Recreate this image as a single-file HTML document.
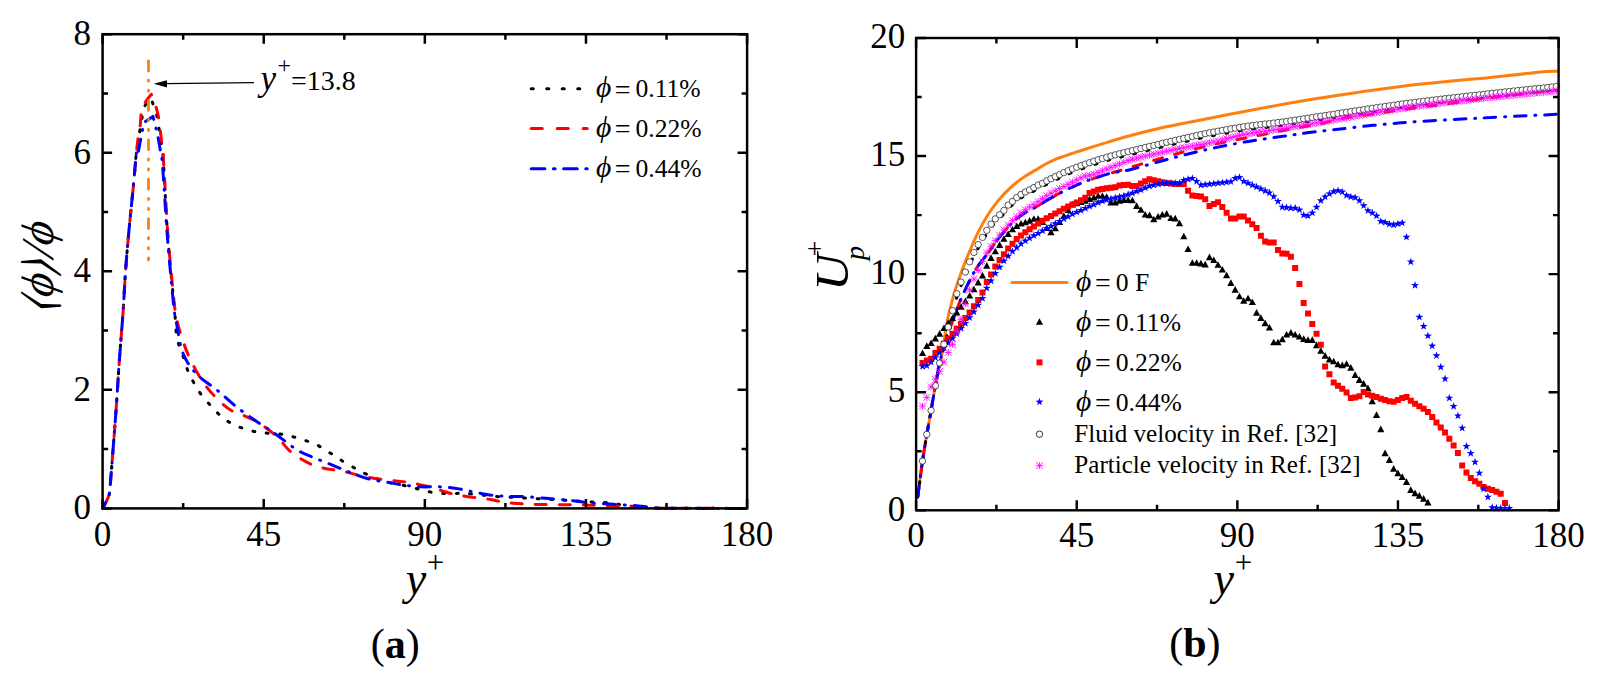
<!DOCTYPE html>
<html lang="en"><head><meta charset="utf-8"><title>Figure</title>
<style>
html,body{margin:0;padding:0;background:#fff;}
body{width:1598px;height:680px;overflow:hidden;}
svg{display:block;}
</style></head><body>
<svg width="1598" height="680" viewBox="0 0 1598 680">
<rect width="1598" height="680" fill="#fff"/>
<g id="plot-a">
<g fill="none" stroke-width="3" stroke-linejoin="round" stroke-linecap="round">
<path d="M102.60 508.40C102.75 508.13 102.85 508.03 103.50 506.80C104.15 505.57 105.52 503.22 106.50 501.00C107.48 498.78 108.68 497.33 109.40 493.50C110.12 489.67 110.30 483.88 110.80 478.00C111.30 472.12 111.50 469.83 112.40 458.20C113.30 446.57 115.08 423.88 116.20 408.20C117.32 392.52 118.18 377.13 119.10 364.10C120.02 351.07 121.00 339.23 121.70 330.00C122.40 320.77 122.63 318.87 123.30 308.70C123.97 298.53 124.73 282.28 125.70 269.00C126.67 255.72 127.88 242.17 129.10 229.00C130.32 215.83 131.77 202.83 133.00 190.00C134.23 177.17 135.48 161.05 136.50 152.00C137.52 142.95 138.27 140.87 139.10 135.70C139.93 130.53 140.67 125.68 141.50 121.00C142.33 116.32 142.55 111.40 144.10 107.60C145.65 103.80 149.68 99.77 150.80 98.20C151.70 100.67 154.83 107.95 156.20 113.00C157.57 118.05 158.12 123.17 159.00 128.50C159.88 133.83 160.80 140.08 161.50 145.00C162.20 149.92 162.25 144.00 163.20 158.00C164.15 172.00 165.97 210.50 167.20 229.00C168.43 247.50 169.38 255.72 170.60 269.00C171.82 282.28 173.43 297.27 174.50 308.70C175.57 320.13 175.45 329.35 177.00 337.60C178.55 345.85 181.93 352.55 183.80 358.20C185.67 363.85 186.48 367.33 188.20 371.50C189.92 375.67 191.88 379.28 194.10 383.20C196.32 387.12 198.32 390.83 201.50 395.00C204.68 399.17 209.53 404.28 213.20 408.20C216.87 412.12 220.07 415.80 223.50 418.50C226.93 421.20 230.37 422.68 233.80 424.40C237.23 426.12 240.42 427.57 244.10 428.80C247.78 430.03 251.98 431.07 255.90 431.80C259.82 432.53 263.15 432.77 267.60 433.20C272.05 433.63 278.18 433.75 282.60 434.40C287.02 435.05 290.12 436.02 294.10 437.10C298.08 438.18 302.67 439.58 306.50 440.90C310.33 442.22 313.58 443.23 317.10 445.00C320.62 446.77 324.22 449.43 327.60 451.50C330.98 453.57 334.75 455.68 337.40 457.40C340.05 459.12 341.00 460.25 343.50 461.80C346.00 463.35 349.45 465.03 352.40 466.70C355.35 468.37 357.68 470.07 361.20 471.80C364.72 473.53 369.68 475.48 373.50 477.10C377.32 478.72 380.27 480.38 384.10 481.50C387.93 482.62 392.08 482.88 396.50 483.80C400.92 484.72 406.33 485.97 410.60 487.00C414.87 488.03 417.83 489.00 422.10 490.00C426.37 491.00 431.20 492.42 436.20 493.00C441.20 493.58 446.95 493.42 452.10 493.50C457.25 493.58 459.75 493.00 467.10 493.50C474.45 494.00 487.97 495.82 496.20 496.50C504.43 497.18 508.03 497.13 516.50 497.60C524.97 498.07 539.75 498.90 547.00 499.30C554.25 499.70 553.05 499.58 560.00 500.00C566.95 500.42 581.37 501.38 588.70 501.80C596.03 502.22 599.53 502.17 604.00 502.50C608.47 502.83 611.42 503.23 615.50 503.80C619.58 504.37 623.75 505.30 628.50 505.90C633.25 506.50 637.92 507.02 644.00 507.40C650.08 507.78 647.82 508.03 665.00 508.20C682.18 508.37 733.42 508.37 747.10 508.40" stroke="#000" stroke-dasharray="1.9 11.6" stroke-dashoffset="-1.4"/>
<path d="M102.60 508.40C102.75 508.13 102.85 508.03 103.50 506.80C104.15 505.57 105.52 503.22 106.50 501.00C107.48 498.78 108.68 497.33 109.40 493.50C110.12 489.67 110.30 483.88 110.80 478.00C111.30 472.12 111.50 469.83 112.40 458.20C113.30 446.57 115.08 423.88 116.20 408.20C117.32 392.52 118.18 377.13 119.10 364.10C120.02 351.07 121.00 339.23 121.70 330.00C122.40 320.77 122.63 318.87 123.30 308.70C123.97 298.53 124.73 282.28 125.70 269.00C126.67 255.72 127.88 242.17 129.10 229.00C130.32 215.83 131.77 202.83 133.00 190.00C134.23 177.17 135.67 160.60 136.50 152.00C137.33 143.40 137.38 142.77 138.00 138.40C138.62 134.03 139.65 129.93 140.20 125.80C140.75 121.67 140.47 117.47 141.30 113.60C142.13 109.73 143.53 105.82 145.20 102.60C146.87 99.38 150.28 95.68 151.30 94.30C152.12 96.52 154.92 103.37 156.20 107.60C157.48 111.83 158.27 115.47 159.00 119.70C159.73 123.93 160.10 128.78 160.60 133.00C161.10 137.22 161.57 141.17 162.00 145.00C162.43 148.83 162.28 142.00 163.20 156.00C164.12 170.00 166.22 210.17 167.50 229.00C168.78 247.83 169.67 255.72 170.90 269.00C172.13 282.28 173.75 299.53 174.90 308.70C176.05 317.87 176.32 318.20 177.80 324.00C179.28 329.80 181.57 337.30 183.80 343.50C186.03 349.70 188.02 354.82 191.20 361.20C194.38 367.58 198.50 375.43 202.90 381.80C207.30 388.17 212.68 394.50 217.60 399.40C222.52 404.30 227.98 408.50 232.40 411.20C236.82 413.90 239.70 413.65 244.10 415.60C248.50 417.55 253.40 419.47 258.80 422.90C264.20 426.33 271.60 431.78 276.50 436.20C281.40 440.62 284.08 445.58 288.20 449.40C292.32 453.22 296.98 456.45 301.20 459.10C305.42 461.75 309.68 463.77 313.50 465.30C317.32 466.83 320.87 467.57 324.10 468.30C327.33 469.03 329.37 469.12 332.90 469.70C336.43 470.28 340.88 470.83 345.30 471.80C349.72 472.77 354.70 474.43 359.40 475.50C364.10 476.57 368.50 477.40 373.50 478.20C378.50 479.00 384.40 479.72 389.40 480.30C394.40 480.88 399.08 481.12 403.50 481.70C407.92 482.28 411.48 482.92 415.90 483.80C420.32 484.68 425.58 485.82 430.00 487.00C434.42 488.18 437.98 489.58 442.40 490.90C446.82 492.22 451.22 493.82 456.50 494.90C461.78 495.98 468.22 496.60 474.10 497.40C479.98 498.20 486.40 498.83 491.80 499.70C497.20 500.57 499.72 501.83 506.50 502.60C513.28 503.37 522.73 503.95 532.50 504.30C542.27 504.65 555.60 504.55 565.10 504.70C574.60 504.85 581.37 505.00 589.50 505.20C597.63 505.40 605.77 505.57 613.90 505.90C622.03 506.23 630.62 506.82 638.30 507.20C645.98 507.58 641.87 508.00 660.00 508.20C678.13 508.40 732.58 508.37 747.10 508.40" stroke="#f00" stroke-dasharray="11 13" stroke-dashoffset="-1.5"/>
<path d="M102.60 508.40C102.75 508.13 102.85 508.03 103.50 506.80C104.15 505.57 105.52 503.22 106.50 501.00C107.48 498.78 108.68 497.33 109.40 493.50C110.12 489.67 110.30 483.88 110.80 478.00C111.30 472.12 111.50 469.83 112.40 458.20C113.30 446.57 115.08 423.88 116.20 408.20C117.32 392.52 118.18 377.13 119.10 364.10C120.02 351.07 121.00 339.23 121.70 330.00C122.40 320.77 122.63 318.87 123.30 308.70C123.97 298.53 124.73 282.28 125.70 269.00C126.67 255.72 127.88 242.17 129.10 229.00C130.32 215.83 131.77 202.83 133.00 190.00C134.23 177.17 135.67 158.20 136.50 152.00C137.33 145.80 137.28 155.07 138.00 152.80C138.72 150.53 140.07 142.17 140.80 138.40C141.53 134.63 141.85 132.87 142.40 130.20C142.95 127.53 143.82 123.70 144.10 122.40C145.57 121.40 151.43 117.40 152.90 116.40C153.27 117.78 154.37 121.85 155.10 124.70C155.83 127.55 156.48 129.55 157.30 133.50C158.12 137.45 159.13 143.15 160.00 148.40C160.87 153.65 161.37 151.57 162.50 165.00C163.63 178.43 165.52 211.67 166.80 229.00C168.08 246.33 169.00 255.72 170.20 269.00C171.40 282.28 172.95 299.70 174.00 308.70C175.05 317.70 175.35 316.70 176.50 323.00C177.65 329.30 179.18 340.13 180.90 346.50C182.62 352.87 183.87 356.30 186.80 361.20C189.73 366.10 193.37 371.00 198.50 375.90C203.63 380.80 210.98 385.22 217.60 390.60C224.22 395.98 231.33 402.82 238.20 408.20C245.07 413.58 252.42 418.48 258.80 422.90C265.18 427.32 270.03 430.13 276.50 434.70C282.97 439.27 291.13 446.38 297.60 450.30C304.07 454.22 309.42 455.70 315.30 458.20C321.18 460.70 327.02 462.90 332.90 465.30C338.78 467.70 344.72 470.35 350.60 472.60C356.48 474.85 362.32 477.23 368.20 478.80C374.08 480.37 380.02 480.97 385.90 482.00C391.78 483.03 397.62 484.20 403.50 485.00C409.38 485.80 415.32 486.50 421.20 486.80C427.08 487.10 432.92 486.52 438.80 486.80C444.68 487.08 450.62 487.63 456.50 488.50C462.38 489.37 468.22 490.88 474.10 492.00C479.98 493.12 485.92 494.47 491.80 495.20C497.68 495.93 503.97 496.17 509.40 496.40C514.83 496.63 517.83 496.23 524.40 496.60C530.97 496.97 540.67 497.92 548.80 498.60C556.93 499.28 566.42 500.00 573.20 500.70C579.98 501.40 582.72 502.20 589.50 502.80C596.28 503.40 605.77 503.78 613.90 504.30C622.03 504.82 631.52 505.33 638.30 505.90C645.08 506.47 648.48 507.30 654.60 507.70C660.72 508.10 659.58 508.18 675.00 508.30C690.42 508.42 735.08 508.38 747.10 508.40" stroke="#00f" stroke-dasharray="12 9 1 9" stroke-dashoffset="5.1"/>
<path d="M148.5 61V260" stroke="#ff7f0e" stroke-width="2.8" stroke-dasharray="10 9.1 1.2 8.8 1.2 9.1"/>
</g>
<rect x="102.60" y="34.20" width="644.50" height="474.20" fill="none" stroke="#000" stroke-width="2.50"/>
<path d="M102.60 508.40 v-9.50 M102.60 34.20 v9.50M263.73 508.40 v-9.50 M263.73 34.20 v9.50M424.85 508.40 v-9.50 M424.85 34.20 v9.50M585.98 508.40 v-9.50 M585.98 34.20 v9.50M747.10 508.40 v-9.50 M747.10 34.20 v9.50M183.16 508.40 v-5.50 M183.16 34.20 v5.50M344.29 508.40 v-5.50 M344.29 34.20 v5.50M505.41 508.40 v-5.50 M505.41 34.20 v5.50M666.54 508.40 v-5.50 M666.54 34.20 v5.50M102.60 508.40 h9.50 M747.10 508.40 h-9.50M102.60 389.85 h9.50 M747.10 389.85 h-9.50M102.60 271.30 h9.50 M747.10 271.30 h-9.50M102.60 152.75 h9.50 M747.10 152.75 h-9.50M102.60 34.20 h9.50 M747.10 34.20 h-9.50M102.60 449.12 h5.50 M747.10 449.12 h-5.50M102.60 330.57 h5.50 M747.10 330.57 h-5.50M102.60 212.02 h5.50 M747.10 212.02 h-5.50M102.60 93.47 h5.50 M747.10 93.47 h-5.50" stroke="#000" stroke-width="2.50" fill="none"/>
<path d="M254 82.7L166 83.7" stroke="#000" stroke-width="1.2" fill="none"/>
<path d="M153.8 83.8L167 80.2L167 87.4Z" fill="#000"/>
<g font-family="'Liberation Serif',serif" font-size="35" fill="#000">
<text x="102.60" y="545.6" text-anchor="middle">0</text>
<text x="263.73" y="545.6" text-anchor="middle">45</text>
<text x="424.85" y="545.6" text-anchor="middle">90</text>
<text x="585.98" y="545.6" text-anchor="middle">135</text>
<text x="747.10" y="545.6" text-anchor="middle">180</text>
<text x="91" y="519.20" text-anchor="end">0</text>
<text x="91" y="400.65" text-anchor="end">2</text>
<text x="91" y="282.10" text-anchor="end">4</text>
<text x="91" y="163.55" text-anchor="end">6</text>
<text x="91" y="45.00" text-anchor="end">8</text>
</g>
<text x="405.75" y="594" font-family="'Liberation Serif',serif" font-style="italic" font-size="46">y</text>
<text x="435.6" y="573.2" text-anchor="middle" font-family="'Liberation Serif',serif" font-size="31">+</text>
<g transform="rotate(-90)" fill="#000">
<text transform="translate(-298.6,53.2) skewX(-10.5)" font-family="'Liberation Serif',serif" font-style="italic" font-size="45.5">ϕ</text>
<text transform="translate(-246.7,53.2) skewX(-10.5)" font-family="'Liberation Serif',serif" font-style="italic" font-size="45.5">ϕ</text>
<text transform="translate(-258.6,53.2) skewX(-8.5)" font-family="'Liberation Serif',serif" font-style="italic" font-size="45.5">/</text>
<text transform="translate(-315.6,54.4) skewX(-18.5) scale(0.77,1)" font-family="'DejaVu Math TeX Gyre','DejaVu Serif',serif" font-size="47.3">⟨</text>
<text transform="translate(-276,54.4) skewX(-18.5) scale(0.77,1)" font-family="'DejaVu Math TeX Gyre','DejaVu Serif',serif" font-size="47.3">⟩</text>
</g>
<text x="395.2" y="657.6" text-anchor="middle" font-family="'Liberation Serif',serif" font-size="42">(<tspan font-weight="bold">a</tspan>)</text>
<text font-family="'Liberation Serif',serif" fill="#000"><tspan x="260.5" y="90.1" font-style="italic" font-size="35">y</tspan><tspan x="277.5" y="73.3" font-size="24">+</tspan><tspan x="291" y="90.1" font-size="28">=13.8</tspan></text>
<g fill="none" stroke-width="3" stroke-linecap="round">
<path d="M531.2 88.7H587" stroke="#000" stroke-dasharray="2.1 13.4"/>
<path d="M531.2 128.6H587.2" stroke="#f00" stroke-dasharray="11.1 14.9"/>
<path d="M531.2 168.7H587.2" stroke="#00f" stroke-dasharray="13.7 8.5 1.7 8.5"/>
</g>
<g font-family="'Liberation Serif',serif" font-size="25.6" fill="#000">
<text y="97.3"><tspan x="596" font-style="italic" font-size="29.5">ϕ</tspan><tspan x="614.8" dy="1.2" font-size="28">=</tspan><tspan x="635.5" dy="-1.2">0.11%</tspan></text>
<text y="137.2"><tspan x="596" font-style="italic" font-size="29.5">ϕ</tspan><tspan x="614.8" dy="1.2" font-size="28">=</tspan><tspan x="635.5" dy="-1.2">0.22%</tspan></text>
<text y="177.1"><tspan x="596" font-style="italic" font-size="29.5">ϕ</tspan><tspan x="614.8" dy="1.2" font-size="28">=</tspan><tspan x="635.5" dy="-1.2">0.44%</tspan></text>
</g>
</g>
<g id="plot-b">
<g>
<g fill="none" stroke-width="3" stroke-linejoin="round" stroke-linecap="round">
<path d="M917.75 496.90C918.54 490.96 921.02 471.47 922.50 461.25C923.98 451.03 925.17 444.08 926.60 435.60C928.03 427.12 929.63 418.73 931.10 410.40C932.57 402.07 933.98 393.48 935.40 385.60C936.82 377.72 938.57 368.20 939.65 363.10C940.73 358.00 940.59 362.18 941.90 355.00C943.21 347.82 945.52 330.00 947.50 320.00C949.48 310.00 951.82 301.92 953.75 295.00C955.68 288.08 956.61 285.45 959.10 278.50C961.59 271.55 965.52 261.02 968.70 253.30C971.88 245.58 975.02 238.58 978.20 232.20C981.38 225.82 984.60 220.10 987.80 215.00C991.00 209.90 994.22 205.58 997.40 201.60C1000.58 197.62 1003.72 194.28 1006.90 191.10C1010.08 187.92 1013.32 185.05 1016.50 182.50C1019.68 179.95 1022.82 177.87 1026.00 175.80C1029.18 173.73 1032.40 172.02 1035.60 170.10C1038.80 168.18 1042.02 166.05 1045.20 164.30C1048.38 162.55 1051.52 160.95 1054.70 159.60C1057.88 158.25 1061.12 157.32 1064.30 156.20C1067.48 155.08 1070.62 153.98 1073.80 152.90C1076.98 151.82 1079.03 151.08 1083.40 149.70C1087.77 148.32 1094.73 146.22 1100.00 144.60C1105.27 142.98 1110.00 141.48 1115.00 140.00C1120.00 138.52 1121.67 137.87 1130.00 135.70C1138.33 133.53 1153.22 129.62 1165.00 127.00C1176.78 124.38 1184.87 123.08 1200.70 120.00C1216.53 116.92 1240.12 112.15 1260.00 108.50C1279.88 104.85 1296.52 101.78 1320.00 98.10C1343.48 94.42 1372.57 89.85 1400.90 86.40C1429.23 82.95 1468.48 79.60 1490.00 77.40C1511.52 75.20 1520.58 74.18 1530.00 73.20C1539.42 72.22 1541.97 71.82 1546.50 71.50C1551.03 71.18 1555.42 71.33 1557.20 71.30" stroke="#ff7f0e"/>
<path d="M917.75 496.90C918.54 490.96 921.02 471.47 922.50 461.25C923.98 451.03 925.17 444.08 926.60 435.60C928.03 427.12 929.63 418.73 931.10 410.40C932.57 402.07 933.98 393.48 935.40 385.60C936.82 377.72 938.26 369.28 939.65 363.10C941.04 356.92 942.34 353.85 943.75 348.50C945.16 343.15 946.64 336.73 948.10 331.00C949.56 325.27 951.08 319.62 952.50 314.10C953.92 308.58 955.18 302.62 956.60 297.90C958.02 293.17 959.50 289.57 961.00 285.75C962.50 281.93 964.17 278.39 965.60 275.00C967.03 271.61 968.28 268.43 969.60 265.40C970.92 262.37 972.07 259.68 973.50 256.80C974.93 253.92 976.77 250.65 978.20 248.10C979.63 245.55 980.67 243.88 982.10 241.50C983.53 239.12 985.37 236.03 986.80 233.80C988.23 231.57 989.27 230.02 990.70 228.10C992.13 226.18 993.97 223.90 995.40 222.30C996.83 220.70 997.85 219.93 999.30 218.50C1000.75 217.07 1002.67 215.30 1004.10 213.70C1005.53 212.10 1006.53 210.33 1007.90 208.90C1009.27 207.47 1010.87 206.37 1012.30 205.10C1013.73 203.83 1015.10 202.47 1016.50 201.30C1017.90 200.13 1019.27 199.05 1020.70 198.10C1022.13 197.15 1023.73 196.33 1025.10 195.60C1026.47 194.87 1027.53 194.40 1028.90 193.70C1030.27 193.00 1031.87 192.20 1033.30 191.40C1034.73 190.60 1036.07 189.63 1037.50 188.90C1038.93 188.17 1040.47 187.70 1041.90 187.00C1043.33 186.30 1043.42 186.07 1046.10 184.70C1048.78 183.33 1053.70 180.82 1058.00 178.80C1062.30 176.78 1066.07 174.90 1071.90 172.60C1077.73 170.30 1086.30 167.23 1093.00 165.00C1099.70 162.77 1105.93 160.92 1112.10 159.20C1118.27 157.48 1123.68 156.27 1130.00 154.70C1136.32 153.13 1143.33 151.42 1150.00 149.80C1156.67 148.18 1163.33 146.55 1170.00 145.00C1176.67 143.45 1183.33 141.97 1190.00 140.50C1196.67 139.03 1200.88 137.93 1210.00 136.20C1219.12 134.47 1232.53 131.90 1244.70 130.10C1256.87 128.30 1270.45 127.12 1283.00 125.40C1295.55 123.68 1300.35 122.75 1320.00 119.80C1339.65 116.85 1373.93 111.33 1400.90 107.70C1427.87 104.07 1455.88 100.95 1481.80 98.00C1507.72 95.05 1543.97 91.33 1556.40 90.00" stroke="#000" stroke-dasharray="1.9 11.6"/>
<path d="M917.75 496.90C918.54 490.96 921.02 471.47 922.50 461.25C923.98 451.03 925.17 444.08 926.60 435.60C928.03 427.12 929.63 418.73 931.10 410.40C932.57 402.07 933.98 393.48 935.40 385.60C936.82 377.72 938.38 369.03 939.65 363.10C940.92 357.17 941.77 354.35 943.00 350.00C944.23 345.65 945.62 341.17 947.00 337.00C948.38 332.83 949.08 330.96 951.25 325.00C953.42 319.04 957.08 308.33 960.00 301.25C962.92 294.17 966.03 287.96 968.75 282.50C971.47 277.04 973.12 273.37 976.30 268.50C979.47 263.63 984.28 258.07 987.80 253.30C991.32 248.53 994.22 244.05 997.40 239.90C1000.58 235.75 1003.72 231.92 1006.90 228.40C1010.08 224.88 1013.32 221.52 1016.50 218.80C1019.68 216.08 1023.45 213.68 1026.00 212.10C1028.55 210.52 1027.02 212.00 1031.80 209.30C1036.58 206.60 1047.70 199.73 1054.70 195.90C1061.70 192.07 1067.42 189.17 1073.80 186.30C1080.18 183.43 1086.62 180.93 1093.00 178.70C1099.38 176.47 1104.50 175.20 1112.10 172.90C1119.70 170.60 1127.65 168.13 1138.60 164.90C1149.55 161.67 1164.90 157.00 1177.80 153.50C1190.70 150.00 1203.25 146.77 1216.00 143.90C1228.75 141.03 1241.55 138.85 1254.30 136.30C1267.05 133.75 1281.35 130.68 1292.50 128.60C1303.65 126.52 1313.92 125.30 1321.20 123.80C1328.48 122.30 1330.47 120.85 1336.20 119.60C1341.93 118.35 1348.32 117.38 1355.60 116.30C1362.88 115.22 1372.88 114.12 1379.90 113.10C1386.92 112.08 1390.97 111.22 1397.70 110.20C1404.43 109.18 1413.30 107.92 1420.30 107.00C1427.30 106.08 1429.45 106.07 1439.70 104.70C1449.95 103.33 1466.75 100.75 1481.80 98.80C1496.85 96.85 1517.43 94.45 1530.00 93.00C1542.57 91.55 1552.67 90.58 1557.20 90.10" stroke="#f00" stroke-dasharray="9 12.5"/>
<path d="M917.75 496.90C918.54 490.96 921.02 471.47 922.50 461.25C923.98 451.03 925.17 444.08 926.60 435.60C928.03 427.12 929.63 418.73 931.10 410.40C932.57 402.07 933.98 393.48 935.40 385.60C936.82 377.72 938.38 369.03 939.65 363.10C940.92 357.17 941.77 354.35 943.00 350.00C944.23 345.65 945.62 341.17 947.00 337.00C948.38 332.83 949.08 330.96 951.25 325.00C953.42 319.04 957.08 308.33 960.00 301.25C962.92 294.17 966.03 287.96 968.75 282.50C971.47 277.04 973.12 273.37 976.30 268.50C979.47 263.63 984.28 258.07 987.80 253.30C991.32 248.53 994.22 244.05 997.40 239.90C1000.58 235.75 1003.72 231.92 1006.90 228.40C1010.08 224.88 1013.32 221.52 1016.50 218.80C1019.68 216.08 1023.45 213.68 1026.00 212.10C1028.55 210.52 1027.02 212.00 1031.80 209.30C1036.58 206.60 1047.70 199.73 1054.70 195.90C1061.70 192.07 1067.42 189.17 1073.80 186.30C1080.18 183.43 1086.62 180.93 1093.00 178.70C1099.38 176.47 1105.93 174.40 1112.10 172.90C1118.27 171.40 1120.65 171.98 1130.00 169.70C1139.35 167.42 1155.45 162.55 1168.20 159.20C1180.95 155.85 1193.75 152.47 1206.50 149.60C1219.25 146.73 1231.95 144.22 1244.70 142.00C1257.45 139.78 1270.25 138.12 1283.00 136.30C1295.75 134.48 1301.55 133.35 1321.20 131.10C1340.85 128.85 1374.13 124.98 1400.90 122.80C1427.67 120.62 1455.75 119.42 1481.80 118.00C1507.85 116.58 1544.63 114.92 1557.20 114.30" stroke="#00f" stroke-dasharray="11.6 8.8 1 8.8"/>
</g>
</g>
<path d="M922.52 349.47L926.12 356.07L918.92 356.07ZM926.81 342.37L930.41 348.97L923.21 348.97ZM931.09 339.47L934.69 346.07L927.49 346.07ZM935.37 334.87L938.97 341.47L931.77 341.47ZM939.65 330.12L943.25 336.72L936.05 336.72ZM943.94 324.47L947.54 331.07L940.34 331.07ZM948.22 319.47L951.82 326.07L944.62 326.07ZM952.50 314.47L956.10 321.07L948.90 321.07ZM956.79 308.87L960.39 315.47L953.19 315.47ZM961.07 303.27L964.67 309.87L957.47 309.87ZM965.35 297.62L968.95 304.22L961.75 304.22ZM969.64 291.97L973.24 298.57L966.04 298.57ZM973.92 285.77L977.52 292.37L970.32 292.37ZM978.20 278.87L981.80 285.47L974.60 285.47ZM982.49 271.97L986.09 278.57L978.88 278.57ZM986.77 262.07L990.37 268.67L983.17 268.67ZM991.05 254.37L994.65 260.97L987.45 260.97ZM995.33 247.67L998.93 254.27L991.73 254.27ZM999.62 241.37L1003.22 247.97L996.02 247.97ZM1003.90 235.27L1007.50 241.87L1000.30 241.87ZM1008.18 230.47L1011.78 237.07L1004.58 237.07ZM1012.47 225.67L1016.07 232.27L1008.87 232.27ZM1016.75 222.47L1020.35 229.07L1013.15 229.07ZM1021.03 219.97L1024.63 226.57L1017.43 226.57ZM1025.32 218.67L1028.91 225.27L1021.72 225.27ZM1029.60 217.07L1033.20 223.67L1026.00 223.67ZM1033.88 215.17L1037.48 221.77L1030.28 221.77ZM1038.16 215.17L1041.76 221.77L1034.56 221.77ZM1042.45 218.37L1046.05 224.97L1038.85 224.97ZM1046.73 224.37L1050.33 230.97L1043.13 230.97ZM1051.01 228.57L1054.61 235.17L1047.41 235.17ZM1055.30 224.77L1058.90 231.37L1051.70 231.37ZM1059.58 218.37L1063.18 224.97L1055.98 224.97ZM1063.86 212.37L1067.46 218.97L1060.26 218.97ZM1068.14 206.37L1071.74 212.97L1064.55 212.97ZM1072.43 200.87L1076.03 207.47L1068.83 207.47ZM1076.71 199.60L1080.31 206.20L1073.11 206.20ZM1080.99 198.34L1084.59 204.94L1077.39 204.94ZM1085.28 197.07L1088.88 203.67L1081.68 203.67ZM1089.56 195.47L1093.16 202.07L1085.96 202.07ZM1093.84 193.87L1097.44 200.47L1090.24 200.47ZM1098.13 192.27L1101.73 198.87L1094.53 198.87ZM1102.41 192.27L1106.01 198.87L1098.81 198.87ZM1106.69 193.17L1110.29 199.77L1103.09 199.77ZM1110.97 198.97L1114.57 205.57L1107.38 205.57ZM1115.26 198.97L1118.86 205.57L1111.66 205.57ZM1119.54 197.07L1123.14 203.67L1115.94 203.67ZM1123.82 196.47L1127.42 203.07L1120.22 203.07ZM1128.11 196.47L1131.71 203.07L1124.51 203.07ZM1132.39 196.67L1135.99 203.27L1128.79 203.27ZM1136.67 202.37L1140.27 208.97L1133.07 208.97ZM1140.96 206.27L1144.56 212.87L1137.36 212.87ZM1145.24 210.97L1148.84 217.57L1141.64 217.57ZM1149.52 211.57L1153.12 218.17L1145.92 218.17ZM1153.81 215.77L1157.40 222.37L1150.21 222.37ZM1158.09 212.97L1161.69 219.57L1154.49 219.57ZM1162.37 210.97L1165.97 217.57L1158.77 217.57ZM1166.65 210.07L1170.25 216.67L1163.05 216.67ZM1170.94 214.47L1174.54 221.07L1167.34 221.07ZM1175.22 214.87L1178.82 221.47L1171.62 221.47ZM1179.50 219.67L1183.10 226.27L1175.90 226.27ZM1183.79 232.67L1187.39 239.27L1180.19 239.27ZM1188.07 245.47L1191.67 252.07L1184.47 252.07ZM1192.35 259.27L1195.95 265.87L1188.75 265.87ZM1196.63 259.27L1200.23 265.87L1193.04 265.87ZM1200.92 259.87L1204.52 266.47L1197.32 266.47ZM1205.20 260.87L1208.80 267.47L1201.60 267.47ZM1209.48 253.57L1213.08 260.17L1205.88 260.17ZM1213.77 256.47L1217.37 263.07L1210.17 263.07ZM1218.05 261.27L1221.65 267.87L1214.45 267.87ZM1222.33 265.97L1225.93 272.57L1218.73 272.57ZM1226.62 271.77L1230.22 278.37L1223.02 278.37ZM1230.90 279.37L1234.50 285.97L1227.30 285.97ZM1235.18 286.07L1238.78 292.67L1231.58 292.67ZM1239.47 292.77L1243.07 299.37L1235.87 299.37ZM1243.75 297.17L1247.35 303.77L1240.15 303.77ZM1248.03 294.67L1251.63 301.27L1244.43 301.27ZM1252.31 298.47L1255.91 305.07L1248.71 305.07ZM1256.60 309.07L1260.20 315.67L1253.00 315.67ZM1260.88 314.37L1264.48 320.97L1257.28 320.97ZM1265.16 319.57L1268.76 326.17L1261.56 326.17ZM1269.45 323.97L1273.05 330.57L1265.85 330.57ZM1273.73 338.67L1277.33 345.27L1270.13 345.27ZM1278.01 338.67L1281.61 345.27L1274.41 345.27ZM1282.30 335.77L1285.89 342.37L1278.70 342.37ZM1286.58 330.97L1290.18 337.57L1282.98 337.57ZM1290.86 329.07L1294.46 335.67L1287.26 335.67ZM1295.14 330.97L1298.74 337.57L1291.54 337.57ZM1299.43 332.97L1303.03 339.57L1295.83 339.57ZM1303.71 335.37L1307.31 341.97L1300.11 341.97ZM1307.99 336.37L1311.59 342.97L1304.39 342.97ZM1312.28 336.37L1315.88 342.97L1308.68 342.97ZM1316.56 341.57L1320.16 348.17L1312.96 348.17ZM1320.84 347.27L1324.44 353.87L1317.24 353.87ZM1325.12 352.07L1328.72 358.67L1321.53 358.67ZM1329.41 355.87L1333.01 362.47L1325.81 362.47ZM1333.69 357.77L1337.29 364.37L1330.09 364.37ZM1337.97 360.67L1341.57 367.27L1334.37 367.27ZM1342.26 361.57L1345.86 368.17L1338.66 368.17ZM1346.54 360.27L1350.14 366.87L1342.94 366.87ZM1350.82 364.07L1354.42 370.67L1347.22 370.67ZM1355.11 371.37L1358.71 377.97L1351.51 377.97ZM1359.39 376.37L1362.99 382.97L1355.79 382.97ZM1363.67 380.12L1367.27 386.72L1360.07 386.72ZM1367.95 384.62L1371.55 391.22L1364.36 391.22ZM1372.24 397.62L1375.84 404.22L1368.64 404.22ZM1376.52 411.37L1380.12 417.97L1372.92 417.97ZM1380.80 425.62L1384.40 432.22L1377.20 432.22ZM1385.09 449.62L1388.69 456.22L1381.49 456.22ZM1389.37 456.37L1392.97 462.97L1385.77 462.97ZM1393.65 465.12L1397.25 471.72L1390.05 471.72ZM1397.94 469.62L1401.54 476.22L1394.34 476.22ZM1402.22 473.37L1405.82 479.97L1398.62 479.97ZM1406.50 478.37L1410.10 484.97L1402.90 484.97ZM1410.79 486.37L1414.38 492.97L1407.19 492.97ZM1415.07 489.62L1418.67 496.22L1411.47 496.22ZM1419.35 492.12L1422.95 498.72L1415.75 498.72ZM1423.63 495.12L1427.23 501.72L1420.03 501.72ZM1427.92 498.87L1431.52 505.47L1424.32 505.47Z" fill="#000"/>
<path d="M919.52 360.10h6.00v6.00h-6.00ZM923.81 357.50h6.00v6.00h-6.00ZM928.09 355.75h6.00v6.00h-6.00ZM932.37 350.10h6.00v6.00h-6.00ZM936.65 345.75h6.00v6.00h-6.00ZM940.94 340.70h6.00v6.00h-6.00ZM945.22 335.75h6.00v6.00h-6.00ZM949.50 330.75h6.00v6.00h-6.00ZM953.79 325.75h6.00v6.00h-6.00ZM958.07 320.75h6.00v6.00h-6.00ZM962.35 315.10h6.00v6.00h-6.00ZM966.64 309.50h6.00v6.00h-6.00ZM970.92 303.25h6.00v6.00h-6.00ZM975.20 297.00h6.00v6.00h-6.00ZM979.49 289.50h6.00v6.00h-6.00ZM983.77 278.90h6.00v6.00h-6.00ZM988.05 271.40h6.00v6.00h-6.00ZM992.33 263.60h6.00v6.00h-6.00ZM996.62 256.90h6.00v6.00h-6.00ZM1000.90 251.20h6.00v6.00h-6.00ZM1005.18 245.50h6.00v6.00h-6.00ZM1009.47 240.70h6.00v6.00h-6.00ZM1013.75 235.90h6.00v6.00h-6.00ZM1018.03 232.55h6.00v6.00h-6.00ZM1022.32 229.20h6.00v6.00h-6.00ZM1026.60 226.35h6.00v6.00h-6.00ZM1030.88 223.50h6.00v6.00h-6.00ZM1035.16 220.60h6.00v6.00h-6.00ZM1039.45 217.70h6.00v6.00h-6.00ZM1043.73 215.35h6.00v6.00h-6.00ZM1048.01 213.00h6.00v6.00h-6.00ZM1052.30 210.60h6.00v6.00h-6.00ZM1056.58 208.20h6.00v6.00h-6.00ZM1060.86 205.80h6.00v6.00h-6.00ZM1065.14 203.40h6.00v6.00h-6.00ZM1069.43 201.50h6.00v6.00h-6.00ZM1073.71 199.60h6.00v6.00h-6.00ZM1077.99 197.20h6.00v6.00h-6.00ZM1082.28 194.80h6.00v6.00h-6.00ZM1086.56 190.00h6.00v6.00h-6.00ZM1090.84 188.40h6.00v6.00h-6.00ZM1095.13 186.80h6.00v6.00h-6.00ZM1099.41 186.00h6.00v6.00h-6.00ZM1103.69 185.20h6.00v6.00h-6.00ZM1107.97 184.75h6.00v6.00h-6.00ZM1112.26 184.30h6.00v6.00h-6.00ZM1116.54 182.40h6.00v6.00h-6.00ZM1120.82 182.10h6.00v6.00h-6.00ZM1125.11 181.80h6.00v6.00h-6.00ZM1129.39 182.90h6.00v6.00h-6.00ZM1133.67 183.00h6.00v6.00h-6.00ZM1137.96 180.60h6.00v6.00h-6.00ZM1142.24 178.20h6.00v6.00h-6.00ZM1146.52 176.30h6.00v6.00h-6.00ZM1150.81 177.25h6.00v6.00h-6.00ZM1155.09 178.20h6.00v6.00h-6.00ZM1159.37 179.15h6.00v6.00h-6.00ZM1163.65 180.10h6.00v6.00h-6.00ZM1167.94 180.60h6.00v6.00h-6.00ZM1172.22 181.10h6.00v6.00h-6.00ZM1176.50 181.10h6.00v6.00h-6.00ZM1180.79 181.10h6.00v6.00h-6.00ZM1185.07 187.70h6.00v6.00h-6.00ZM1189.35 192.50h6.00v6.00h-6.00ZM1193.63 193.10h6.00v6.00h-6.00ZM1197.92 193.50h6.00v6.00h-6.00ZM1202.20 196.30h6.00v6.00h-6.00ZM1206.48 203.00h6.00v6.00h-6.00ZM1210.77 201.10h6.00v6.00h-6.00ZM1215.05 199.20h6.00v6.00h-6.00ZM1219.33 204.00h6.00v6.00h-6.00ZM1223.62 209.70h6.00v6.00h-6.00ZM1227.90 215.50h6.00v6.00h-6.00ZM1232.18 215.50h6.00v6.00h-6.00ZM1236.47 213.60h6.00v6.00h-6.00ZM1240.75 213.60h6.00v6.00h-6.00ZM1245.03 217.40h6.00v6.00h-6.00ZM1249.31 221.20h6.00v6.00h-6.00ZM1253.60 225.00h6.00v6.00h-6.00ZM1257.88 232.70h6.00v6.00h-6.00ZM1262.16 238.40h6.00v6.00h-6.00ZM1266.45 239.40h6.00v6.00h-6.00ZM1270.73 239.40h6.00v6.00h-6.00ZM1275.01 246.90h6.00v6.00h-6.00ZM1279.30 250.40h6.00v6.00h-6.00ZM1283.58 250.80h6.00v6.00h-6.00ZM1287.86 253.80h6.00v6.00h-6.00ZM1292.14 265.10h6.00v6.00h-6.00ZM1296.43 281.00h6.00v6.00h-6.00ZM1300.71 300.10h6.00v6.00h-6.00ZM1304.99 310.60h6.00v6.00h-6.00ZM1309.28 321.10h6.00v6.00h-6.00ZM1313.56 330.70h6.00v6.00h-6.00ZM1317.84 341.80h6.00v6.00h-6.00ZM1322.12 363.60h6.00v6.00h-6.00ZM1326.41 371.25h6.00v6.00h-6.00ZM1330.69 379.50h6.00v6.00h-6.00ZM1334.97 382.75h6.00v6.00h-6.00ZM1339.26 385.75h6.00v6.00h-6.00ZM1343.54 389.50h6.00v6.00h-6.00ZM1347.82 395.00h6.00v6.00h-6.00ZM1352.11 394.50h6.00v6.00h-6.00ZM1356.39 393.25h6.00v6.00h-6.00ZM1360.67 389.00h6.00v6.00h-6.00ZM1364.95 391.50h6.00v6.00h-6.00ZM1369.24 392.75h6.00v6.00h-6.00ZM1373.52 394.00h6.00v6.00h-6.00ZM1377.80 395.75h6.00v6.00h-6.00ZM1382.09 397.00h6.00v6.00h-6.00ZM1386.37 398.25h6.00v6.00h-6.00ZM1390.65 398.75h6.00v6.00h-6.00ZM1394.94 397.00h6.00v6.00h-6.00ZM1399.22 395.00h6.00v6.00h-6.00ZM1403.50 394.00h6.00v6.00h-6.00ZM1407.79 397.75h6.00v6.00h-6.00ZM1412.07 400.75h6.00v6.00h-6.00ZM1416.35 403.25h6.00v6.00h-6.00ZM1420.63 405.75h6.00v6.00h-6.00ZM1424.92 409.00h6.00v6.00h-6.00ZM1429.20 414.00h6.00v6.00h-6.00ZM1433.48 419.50h6.00v6.00h-6.00ZM1437.77 424.50h6.00v6.00h-6.00ZM1442.05 429.50h6.00v6.00h-6.00ZM1446.33 435.75h6.00v6.00h-6.00ZM1450.62 442.50h6.00v6.00h-6.00ZM1454.90 450.00h6.00v6.00h-6.00ZM1459.18 462.50h6.00v6.00h-6.00ZM1463.46 469.50h6.00v6.00h-6.00ZM1467.75 475.00h6.00v6.00h-6.00ZM1472.03 478.25h6.00v6.00h-6.00ZM1476.31 480.75h6.00v6.00h-6.00ZM1480.60 484.00h6.00v6.00h-6.00ZM1484.88 485.75h6.00v6.00h-6.00ZM1489.16 487.00h6.00v6.00h-6.00ZM1493.45 488.75h6.00v6.00h-6.00ZM1497.73 490.75h6.00v6.00h-6.00ZM1502.01 500.00h6.00v6.00h-6.00Z" fill="#f00"/>
<path d="M922.52 362.10L923.49 364.97L926.52 365.00L924.09 366.81L924.99 369.70L922.52 367.95L920.05 369.70L920.95 366.81L918.53 365.00L921.55 364.97ZM926.81 361.45L927.78 364.32L930.80 364.35L928.38 366.16L929.27 369.05L926.81 367.30L924.34 369.05L925.24 366.16L922.81 364.35L925.84 364.32ZM931.09 357.85L932.06 360.72L935.08 360.75L932.66 362.56L933.56 365.45L931.09 363.70L928.62 365.45L929.52 362.56L927.09 360.75L930.12 360.72ZM935.37 353.35L936.34 356.22L939.37 356.25L936.94 358.06L937.84 360.95L935.37 359.20L932.90 360.95L933.80 358.06L931.38 356.25L934.40 356.22ZM939.65 348.35L940.62 351.22L943.65 351.25L941.22 353.06L942.12 355.95L939.65 354.20L937.19 355.95L938.09 353.06L935.66 351.25L938.69 351.22ZM943.94 343.60L944.91 346.47L947.93 346.50L945.51 348.31L946.41 351.20L943.94 349.45L941.47 351.20L942.37 348.31L939.94 346.50L942.97 346.47ZM948.22 338.85L949.19 341.72L952.22 341.75L949.79 343.56L950.69 346.45L948.22 344.70L945.75 346.45L946.65 343.56L944.23 341.75L947.25 341.72ZM952.50 334.10L953.47 336.97L956.50 337.00L954.07 338.81L954.97 341.70L952.50 339.95L950.04 341.70L950.93 338.81L948.51 337.00L951.53 336.97ZM956.79 329.35L957.76 332.22L960.78 332.25L958.36 334.06L959.26 336.95L956.79 335.20L954.32 336.95L955.22 334.06L952.79 332.25L955.82 332.22ZM961.07 324.25L962.04 327.12L965.06 327.15L962.64 328.96L963.54 331.85L961.07 330.10L958.60 331.85L959.50 328.96L957.08 327.15L960.10 327.12ZM965.35 319.15L966.32 322.02L969.35 322.05L966.92 323.86L967.82 326.75L965.35 325.00L962.88 326.75L963.78 323.86L961.36 322.05L964.38 322.02ZM969.64 313.35L970.61 316.22L973.63 316.25L971.21 318.06L972.10 320.95L969.64 319.20L967.17 320.95L968.07 318.06L965.64 316.25L968.67 316.22ZM973.92 307.55L974.89 310.42L977.91 310.45L975.49 312.26L976.39 315.15L973.92 313.40L971.45 315.15L972.35 312.26L969.92 310.45L972.95 310.42ZM978.20 300.85L979.17 303.72L982.20 303.75L979.77 305.56L980.67 308.45L978.20 306.70L975.73 308.45L976.63 305.56L974.21 303.75L977.23 303.72ZM982.49 294.15L983.45 297.02L986.48 297.05L984.05 298.86L984.95 301.75L982.49 300.00L980.02 301.75L980.92 298.86L978.49 297.05L981.52 297.02ZM986.77 283.85L987.74 286.72L990.76 286.75L988.34 288.56L989.24 291.45L986.77 289.70L984.30 291.45L985.20 288.56L982.77 286.75L985.80 286.72ZM991.05 276.55L992.02 279.42L995.05 279.45L992.62 281.26L993.52 284.15L991.05 282.40L988.58 284.15L989.48 281.26L987.06 279.45L990.08 279.42ZM995.33 269.15L996.30 272.02L999.33 272.05L996.90 273.86L997.80 276.75L995.33 275.00L992.87 276.75L993.76 273.86L991.34 272.05L994.36 272.02ZM999.62 262.95L1000.59 265.82L1003.61 265.85L1001.19 267.66L1002.09 270.55L999.62 268.80L997.15 270.55L998.05 267.66L995.62 265.85L998.65 265.82ZM1003.90 256.75L1004.87 259.62L1007.89 259.65L1005.47 261.46L1006.37 264.35L1003.90 262.60L1001.43 264.35L1002.33 261.46L999.91 259.65L1002.93 259.62ZM1008.18 251.95L1009.15 254.82L1012.18 254.85L1009.75 256.66L1010.65 259.55L1008.18 257.80L1005.71 259.55L1006.61 256.66L1004.19 254.85L1007.21 254.82ZM1012.47 247.15L1013.44 250.02L1016.46 250.05L1014.04 251.86L1014.93 254.75L1012.47 253.00L1010.00 254.75L1010.90 251.86L1008.47 250.05L1011.50 250.02ZM1016.75 243.35L1017.72 246.22L1020.74 246.25L1018.32 248.06L1019.22 250.95L1016.75 249.20L1014.28 250.95L1015.18 248.06L1012.75 246.25L1015.78 246.22ZM1021.03 239.55L1022.00 242.42L1025.03 242.45L1022.60 244.26L1023.50 247.15L1021.03 245.40L1018.56 247.15L1019.46 244.26L1017.04 242.45L1020.06 242.42ZM1025.32 236.70L1026.28 239.57L1029.31 239.60L1026.88 241.41L1027.78 244.30L1025.32 242.55L1022.85 244.30L1023.75 241.41L1021.32 239.60L1024.35 239.57ZM1029.60 233.85L1030.57 236.72L1033.59 236.75L1031.17 238.56L1032.07 241.45L1029.60 239.70L1027.13 241.45L1028.03 238.56L1025.60 236.75L1028.63 236.72ZM1033.88 231.45L1034.85 234.32L1037.88 234.35L1035.45 236.16L1036.35 239.05L1033.88 237.30L1031.41 239.05L1032.31 236.16L1029.89 234.35L1032.91 234.32ZM1038.16 229.05L1039.13 231.92L1042.16 231.95L1039.73 233.76L1040.63 236.65L1038.16 234.90L1035.70 236.65L1036.59 233.76L1034.17 231.95L1037.19 231.92ZM1042.45 226.65L1043.42 229.52L1046.44 229.55L1044.02 231.36L1044.92 234.25L1042.45 232.50L1039.98 234.25L1040.88 231.36L1038.45 229.55L1041.48 229.52ZM1046.73 224.25L1047.70 227.12L1050.72 227.15L1048.30 228.96L1049.20 231.85L1046.73 230.10L1044.26 231.85L1045.16 228.96L1042.74 227.15L1045.76 227.12ZM1051.01 221.85L1051.98 224.72L1055.01 224.75L1052.58 226.56L1053.48 229.45L1051.01 227.70L1048.54 229.45L1049.44 226.56L1047.02 224.75L1050.04 224.72ZM1055.30 219.45L1056.27 222.32L1059.29 222.35L1056.87 224.16L1057.76 227.05L1055.30 225.30L1052.83 227.05L1053.73 224.16L1051.30 222.35L1054.33 222.32ZM1059.58 217.05L1060.55 219.92L1063.57 219.95L1061.15 221.76L1062.05 224.65L1059.58 222.90L1057.11 224.65L1058.01 221.76L1055.58 219.95L1058.61 219.92ZM1063.86 214.65L1064.83 217.52L1067.86 217.55L1065.43 219.36L1066.33 222.25L1063.86 220.50L1061.39 222.25L1062.29 219.36L1059.87 217.55L1062.89 217.52ZM1068.14 212.30L1069.11 215.17L1072.14 215.20L1069.71 217.01L1070.61 219.90L1068.14 218.15L1065.68 219.90L1066.58 217.01L1064.15 215.20L1067.18 215.17ZM1072.43 209.95L1073.40 212.82L1076.42 212.85L1074.00 214.66L1074.90 217.55L1072.43 215.80L1069.96 217.55L1070.86 214.66L1068.43 212.85L1071.46 212.82ZM1076.71 208.00L1077.68 210.87L1080.71 210.90L1078.28 212.71L1079.18 215.60L1076.71 213.85L1074.24 215.60L1075.14 212.71L1072.72 210.90L1075.74 210.87ZM1080.99 206.05L1081.96 208.92L1084.99 208.95L1082.56 210.76L1083.46 213.65L1080.99 211.90L1078.53 213.65L1079.42 210.76L1077.00 208.95L1080.02 208.92ZM1085.28 204.15L1086.25 207.02L1089.27 207.05L1086.85 208.86L1087.75 211.75L1085.28 210.00L1082.81 211.75L1083.71 208.86L1081.28 207.05L1084.31 207.02ZM1089.56 202.25L1090.53 205.12L1093.55 205.15L1091.13 206.96L1092.03 209.85L1089.56 208.10L1087.09 209.85L1087.99 206.96L1085.57 205.15L1088.59 205.12ZM1093.84 200.35L1094.81 203.22L1097.84 203.25L1095.41 205.06L1096.31 207.95L1093.84 206.20L1091.37 207.95L1092.27 205.06L1089.85 203.25L1092.87 203.22ZM1098.13 198.45L1099.10 201.32L1102.12 201.35L1099.70 203.16L1100.59 206.05L1098.13 204.30L1095.66 206.05L1096.56 203.16L1094.13 201.35L1097.16 201.32ZM1102.41 197.00L1103.38 199.87L1106.40 199.90L1103.98 201.71L1104.88 204.60L1102.41 202.85L1099.94 204.60L1100.84 201.71L1098.41 199.90L1101.44 199.87ZM1106.69 195.55L1107.66 198.42L1110.69 198.45L1108.26 200.26L1109.16 203.15L1106.69 201.40L1104.22 203.15L1105.12 200.26L1102.70 198.45L1105.72 198.42ZM1110.97 194.60L1111.94 197.47L1114.97 197.50L1112.54 199.31L1113.44 202.20L1110.97 200.45L1108.51 202.20L1109.41 199.31L1106.98 197.50L1110.01 197.47ZM1115.26 193.65L1116.23 196.52L1119.25 196.55L1116.83 198.36L1117.73 201.25L1115.26 199.50L1112.79 201.25L1113.69 198.36L1111.26 196.55L1114.29 196.52ZM1119.54 192.70L1120.51 195.57L1123.54 195.60L1121.11 197.41L1122.01 200.30L1119.54 198.55L1117.07 200.30L1117.97 197.41L1115.55 195.60L1118.57 195.57ZM1123.82 191.75L1124.79 194.62L1127.82 194.65L1125.39 196.46L1126.29 199.35L1123.82 197.60L1121.36 199.35L1122.25 196.46L1119.83 194.65L1122.85 194.62ZM1128.11 190.30L1129.08 193.17L1132.10 193.20L1129.68 195.01L1130.58 197.90L1128.11 196.15L1125.64 197.90L1126.54 195.01L1124.11 193.20L1127.14 193.17ZM1132.39 188.85L1133.36 191.72L1136.38 191.75L1133.96 193.56L1134.86 196.45L1132.39 194.70L1129.92 196.45L1130.82 193.56L1128.40 191.75L1131.42 191.72ZM1136.67 187.25L1137.64 190.12L1140.67 190.15L1138.24 191.96L1139.14 194.85L1136.67 193.10L1134.20 194.85L1135.10 191.96L1132.68 190.15L1135.70 190.12ZM1140.96 185.65L1141.93 188.52L1144.95 188.55L1142.53 190.36L1143.42 193.25L1140.96 191.50L1138.49 193.25L1139.39 190.36L1136.96 188.55L1139.99 188.52ZM1145.24 183.75L1146.21 186.62L1149.23 186.65L1146.81 188.46L1147.71 191.35L1145.24 189.60L1142.77 191.35L1143.67 188.46L1141.24 186.65L1144.27 186.62ZM1149.52 181.85L1150.49 184.72L1153.52 184.75L1151.09 186.56L1151.99 189.45L1149.52 187.70L1147.05 189.45L1147.95 186.56L1145.53 184.75L1148.55 184.72ZM1153.81 180.90L1154.77 183.77L1157.80 183.80L1155.37 185.61L1156.27 188.50L1153.81 186.75L1151.34 188.50L1152.24 185.61L1149.81 183.80L1152.84 183.77ZM1158.09 179.95L1159.06 182.82L1162.08 182.85L1159.66 184.66L1160.56 187.55L1158.09 185.80L1155.62 187.55L1156.52 184.66L1154.09 182.85L1157.12 182.82ZM1162.37 179.45L1163.34 182.32L1166.37 182.35L1163.94 184.16L1164.84 187.05L1162.37 185.30L1159.90 187.05L1160.80 184.16L1158.38 182.35L1161.40 182.32ZM1166.65 178.95L1167.62 181.82L1170.65 181.85L1168.22 183.66L1169.12 186.55L1166.65 184.80L1164.19 186.55L1165.08 183.66L1162.66 181.85L1165.68 181.82ZM1170.94 178.95L1171.91 181.82L1174.93 181.85L1172.51 183.66L1173.41 186.55L1170.94 184.80L1168.47 186.55L1169.37 183.66L1166.94 181.85L1169.97 181.82ZM1175.22 178.95L1176.19 181.82L1179.21 181.85L1176.79 183.66L1177.69 186.55L1175.22 184.80L1172.75 186.55L1173.65 183.66L1171.23 181.85L1174.25 181.82ZM1179.50 178.95L1180.47 181.82L1183.50 181.85L1181.07 183.66L1181.97 186.55L1179.50 184.80L1177.03 186.55L1177.93 183.66L1175.51 181.85L1178.53 181.82ZM1183.79 176.05L1184.76 178.92L1187.78 178.95L1185.36 180.76L1186.25 183.65L1183.79 181.90L1181.32 183.65L1182.22 180.76L1179.79 178.95L1182.82 178.92ZM1188.07 175.10L1189.04 177.97L1192.06 178.00L1189.64 179.81L1190.54 182.70L1188.07 180.95L1185.60 182.70L1186.50 179.81L1184.07 178.00L1187.10 177.97ZM1192.35 174.15L1193.32 177.02L1196.35 177.05L1193.92 178.86L1194.82 181.75L1192.35 180.00L1189.88 181.75L1190.78 178.86L1188.36 177.05L1191.38 177.02ZM1196.63 177.05L1197.60 179.92L1200.63 179.95L1198.20 181.76L1199.10 184.65L1196.63 182.90L1194.17 184.65L1195.07 181.76L1192.64 179.95L1195.67 179.92ZM1200.92 180.85L1201.89 183.72L1204.91 183.75L1202.49 185.56L1203.39 188.45L1200.92 186.70L1198.45 188.45L1199.35 185.56L1196.92 183.75L1199.95 183.72ZM1205.20 180.40L1206.17 183.27L1209.20 183.30L1206.77 185.11L1207.67 188.00L1205.20 186.25L1202.73 188.00L1203.63 185.11L1201.21 183.30L1204.23 183.27ZM1209.48 179.95L1210.45 182.82L1213.48 182.85L1211.05 184.66L1211.95 187.55L1209.48 185.80L1207.02 187.55L1207.91 184.66L1205.49 182.85L1208.51 182.82ZM1213.77 179.45L1214.74 182.32L1217.76 182.35L1215.34 184.16L1216.24 187.05L1213.77 185.30L1211.30 187.05L1212.20 184.16L1209.77 182.35L1212.80 182.32ZM1218.05 178.95L1219.02 181.82L1222.04 181.85L1219.62 183.66L1220.52 186.55L1218.05 184.80L1215.58 186.55L1216.48 183.66L1214.06 181.85L1217.08 181.82ZM1222.33 178.45L1223.30 181.32L1226.33 181.35L1223.90 183.16L1224.80 186.05L1222.33 184.30L1219.86 186.05L1220.76 183.16L1218.34 181.35L1221.36 181.32ZM1226.62 177.95L1227.59 180.82L1230.61 180.85L1228.19 182.66L1229.08 185.55L1226.62 183.80L1224.15 185.55L1225.05 182.66L1222.62 180.85L1225.65 180.82ZM1230.90 177.45L1231.87 180.32L1234.89 180.35L1232.47 182.16L1233.37 185.05L1230.90 183.30L1228.43 185.05L1229.33 182.16L1226.90 180.35L1229.93 180.32ZM1235.18 174.15L1236.15 177.02L1239.18 177.05L1236.75 178.86L1237.65 181.75L1235.18 180.00L1232.71 181.75L1233.61 178.86L1231.19 177.05L1234.21 177.02ZM1239.47 173.25L1240.43 176.12L1243.46 176.15L1241.03 177.96L1241.93 180.85L1239.47 179.10L1237.00 180.85L1237.90 177.96L1235.47 176.15L1238.50 176.12ZM1243.75 177.05L1244.72 179.92L1247.74 179.95L1245.32 181.76L1246.22 184.65L1243.75 182.90L1241.28 184.65L1242.18 181.76L1239.75 179.95L1242.78 179.92ZM1248.03 178.95L1249.00 181.82L1252.03 181.85L1249.60 183.66L1250.50 186.55L1248.03 184.80L1245.56 186.55L1246.46 183.66L1244.04 181.85L1247.06 181.82ZM1252.31 180.85L1253.28 183.72L1256.31 183.75L1253.88 185.56L1254.78 188.45L1252.31 186.70L1249.85 188.45L1250.74 185.56L1248.32 183.75L1251.34 183.72ZM1256.60 182.75L1257.57 185.62L1260.59 185.65L1258.17 187.46L1259.07 190.35L1256.60 188.60L1254.13 190.35L1255.03 187.46L1252.60 185.65L1255.63 185.62ZM1260.88 184.65L1261.85 187.52L1264.87 187.55L1262.45 189.36L1263.35 192.25L1260.88 190.50L1258.41 192.25L1259.31 189.36L1256.89 187.55L1259.91 187.52ZM1265.16 186.60L1266.13 189.47L1269.16 189.50L1266.73 191.31L1267.63 194.20L1265.16 192.45L1262.69 194.20L1263.59 191.31L1261.17 189.50L1264.19 189.47ZM1269.45 188.55L1270.42 191.42L1273.44 191.45L1271.02 193.26L1271.91 196.15L1269.45 194.40L1266.98 196.15L1267.88 193.26L1265.45 191.45L1268.48 191.42ZM1273.73 192.35L1274.70 195.22L1277.72 195.25L1275.30 197.06L1276.20 199.95L1273.73 198.20L1271.26 199.95L1272.16 197.06L1269.73 195.25L1272.76 195.22ZM1278.01 197.15L1278.98 200.02L1282.01 200.05L1279.58 201.86L1280.48 204.75L1278.01 203.00L1275.54 204.75L1276.44 201.86L1274.02 200.05L1277.04 200.02ZM1282.30 202.85L1283.26 205.72L1286.29 205.75L1283.86 207.56L1284.76 210.45L1282.30 208.70L1279.83 210.45L1280.73 207.56L1278.30 205.75L1281.33 205.72ZM1286.58 203.35L1287.55 206.22L1290.57 206.25L1288.15 208.06L1289.05 210.95L1286.58 209.20L1284.11 210.95L1285.01 208.06L1282.58 206.25L1285.61 206.22ZM1290.86 203.85L1291.83 206.72L1294.86 206.75L1292.43 208.56L1293.33 211.45L1290.86 209.70L1288.39 211.45L1289.29 208.56L1286.87 206.75L1289.89 206.72ZM1295.14 203.85L1296.11 206.72L1299.14 206.75L1296.71 208.56L1297.61 211.45L1295.14 209.70L1292.68 211.45L1293.57 208.56L1291.15 206.75L1294.17 206.72ZM1299.43 205.75L1300.40 208.62L1303.42 208.65L1301.00 210.46L1301.90 213.35L1299.43 211.60L1296.96 213.35L1297.86 210.46L1295.43 208.65L1298.46 208.62ZM1303.71 210.85L1304.68 213.72L1307.70 213.75L1305.28 215.56L1306.18 218.45L1303.71 216.70L1301.24 218.45L1302.14 215.56L1299.72 213.75L1302.74 213.72ZM1307.99 211.75L1308.96 214.62L1311.99 214.65L1309.56 216.46L1310.46 219.35L1307.99 217.60L1305.52 219.35L1306.42 216.46L1304.00 214.65L1307.02 214.62ZM1312.28 208.75L1313.25 211.62L1316.27 211.65L1313.85 213.46L1314.74 216.35L1312.28 214.60L1309.81 216.35L1310.71 213.46L1308.28 211.65L1311.31 211.62ZM1316.56 202.95L1317.53 205.82L1320.55 205.85L1318.13 207.66L1319.03 210.55L1316.56 208.80L1314.09 210.55L1314.99 207.66L1312.56 205.85L1315.59 205.82ZM1320.84 196.45L1321.81 199.32L1324.84 199.35L1322.41 201.16L1323.31 204.05L1320.84 202.30L1318.37 204.05L1319.27 201.16L1316.85 199.35L1319.87 199.32ZM1325.12 192.65L1326.09 195.52L1329.12 195.55L1326.69 197.36L1327.59 200.25L1325.12 198.50L1322.66 200.25L1323.56 197.36L1321.13 195.55L1324.16 195.52ZM1329.41 189.65L1330.38 192.52L1333.40 192.55L1330.98 194.36L1331.88 197.25L1329.41 195.50L1326.94 197.25L1327.84 194.36L1325.41 192.55L1328.44 192.52ZM1333.69 187.35L1334.66 190.22L1337.69 190.25L1335.26 192.06L1336.16 194.95L1333.69 193.20L1331.22 194.95L1332.12 192.06L1329.70 190.25L1332.72 190.22ZM1337.97 186.45L1338.94 189.32L1341.97 189.35L1339.54 191.16L1340.44 194.05L1337.97 192.30L1335.51 194.05L1336.40 191.16L1333.98 189.35L1337.00 189.32ZM1342.26 187.65L1343.23 190.52L1346.25 190.55L1343.83 192.36L1344.73 195.25L1342.26 193.50L1339.79 195.25L1340.69 192.36L1338.26 190.55L1341.29 190.52ZM1346.54 191.15L1347.51 194.02L1350.53 194.05L1348.11 195.86L1349.01 198.75L1346.54 197.00L1344.07 198.75L1344.97 195.86L1342.55 194.05L1345.57 194.02ZM1350.82 192.65L1351.79 195.52L1354.82 195.55L1352.39 197.36L1353.29 200.25L1350.82 198.50L1348.35 200.25L1349.25 197.36L1346.83 195.55L1349.85 195.52ZM1355.11 193.45L1356.08 196.32L1359.10 196.35L1356.68 198.16L1357.57 201.05L1355.11 199.30L1352.64 201.05L1353.54 198.16L1351.11 196.35L1354.14 196.32ZM1359.39 196.45L1360.36 199.32L1363.38 199.35L1360.96 201.16L1361.86 204.05L1359.39 202.30L1356.92 204.05L1357.82 201.16L1355.39 199.35L1358.42 199.32ZM1363.67 201.45L1364.64 204.32L1367.67 204.35L1365.24 206.16L1366.14 209.05L1363.67 207.30L1361.20 209.05L1362.10 206.16L1359.68 204.35L1362.70 204.32ZM1367.95 206.45L1368.92 209.32L1371.95 209.35L1369.52 211.16L1370.42 214.05L1367.95 212.30L1365.49 214.05L1366.39 211.16L1363.96 209.35L1366.99 209.32ZM1372.24 208.75L1373.21 211.62L1376.23 211.65L1373.81 213.46L1374.71 216.35L1372.24 214.60L1369.77 216.35L1370.67 213.46L1368.24 211.65L1371.27 211.62ZM1376.52 211.75L1377.49 214.62L1380.52 214.65L1378.09 216.46L1378.99 219.35L1376.52 217.60L1374.05 219.35L1374.95 216.46L1372.53 214.65L1375.55 214.62ZM1380.80 217.05L1381.77 219.92L1384.80 219.95L1382.37 221.76L1383.27 224.65L1380.80 222.90L1378.34 224.65L1379.23 221.76L1376.81 219.95L1379.83 219.92ZM1385.09 218.25L1386.06 221.12L1389.08 221.15L1386.66 222.96L1387.56 225.85L1385.09 224.10L1382.62 225.85L1383.52 222.96L1381.09 221.15L1384.12 221.12ZM1389.37 219.95L1390.34 222.82L1393.36 222.85L1390.94 224.66L1391.84 227.55L1389.37 225.80L1386.90 227.55L1387.80 224.66L1385.38 222.85L1388.40 222.82ZM1393.65 220.55L1394.62 223.42L1397.65 223.45L1395.22 225.26L1396.12 228.15L1393.65 226.40L1391.18 228.15L1392.08 225.26L1389.66 223.45L1392.68 223.42ZM1397.94 219.65L1398.91 222.52L1401.93 222.55L1399.51 224.36L1400.40 227.25L1397.94 225.50L1395.47 227.25L1396.37 224.36L1393.94 222.55L1396.97 222.52ZM1402.22 218.75L1403.19 221.62L1406.21 221.65L1403.79 223.46L1404.69 226.35L1402.22 224.60L1399.75 226.35L1400.65 223.46L1398.22 221.65L1401.25 221.62ZM1406.50 232.95L1407.47 235.82L1410.50 235.85L1408.07 237.66L1408.97 240.55L1406.50 238.80L1404.03 240.55L1404.93 237.66L1402.51 235.85L1405.53 235.82ZM1410.79 257.65L1411.75 260.52L1414.78 260.55L1412.35 262.36L1413.25 265.25L1410.79 263.50L1408.32 265.25L1409.22 262.36L1406.79 260.55L1409.82 260.52ZM1415.07 281.15L1416.04 284.02L1419.06 284.05L1416.64 285.86L1417.54 288.75L1415.07 287.00L1412.60 288.75L1413.50 285.86L1411.07 284.05L1414.10 284.02ZM1419.35 312.95L1420.32 315.82L1423.35 315.85L1420.92 317.66L1421.82 320.55L1419.35 318.80L1416.88 320.55L1417.78 317.66L1415.36 315.85L1418.38 315.82ZM1423.63 322.05L1424.60 324.92L1427.63 324.95L1425.20 326.76L1426.10 329.65L1423.63 327.90L1421.17 329.65L1422.06 326.76L1419.64 324.95L1422.66 324.92ZM1427.92 331.75L1428.89 334.62L1431.91 334.65L1429.49 336.46L1430.39 339.35L1427.92 337.60L1425.45 339.35L1426.35 336.46L1423.92 334.65L1426.95 334.62ZM1432.20 341.75L1433.17 344.62L1436.19 344.65L1433.77 346.46L1434.67 349.35L1432.20 347.60L1429.73 349.35L1430.63 346.46L1428.21 344.65L1431.23 344.62ZM1436.48 351.45L1437.45 354.32L1440.48 354.35L1438.05 356.16L1438.95 359.05L1436.48 357.30L1434.01 359.05L1434.91 356.16L1432.49 354.35L1435.51 354.32ZM1440.77 362.85L1441.74 365.72L1444.76 365.75L1442.34 367.56L1443.23 370.45L1440.77 368.70L1438.30 370.45L1439.20 367.56L1436.77 365.75L1439.80 365.72ZM1445.05 374.60L1446.02 377.47L1449.04 377.50L1446.62 379.31L1447.52 382.20L1445.05 380.45L1442.58 382.20L1443.48 379.31L1441.05 377.50L1444.08 377.47ZM1449.33 393.85L1450.30 396.72L1453.33 396.75L1450.90 398.56L1451.80 401.45L1449.33 399.70L1446.86 401.45L1447.76 398.56L1445.34 396.75L1448.36 396.72ZM1453.62 402.10L1454.58 404.97L1457.61 405.00L1455.18 406.81L1456.08 409.70L1453.62 407.95L1451.15 409.70L1452.05 406.81L1449.62 405.00L1452.65 404.97ZM1457.90 411.60L1458.87 414.47L1461.89 414.50L1459.47 416.31L1460.37 419.20L1457.90 417.45L1455.43 419.20L1456.33 416.31L1453.90 414.50L1456.93 414.47ZM1462.18 423.85L1463.15 426.72L1466.18 426.75L1463.75 428.56L1464.65 431.45L1462.18 429.70L1459.71 431.45L1460.61 428.56L1458.19 426.75L1461.21 426.72ZM1466.46 442.10L1467.43 444.97L1470.46 445.00L1468.03 446.81L1468.93 449.70L1466.46 447.95L1464.00 449.70L1464.89 446.81L1462.47 445.00L1465.49 444.97ZM1470.75 449.10L1471.72 451.97L1474.74 452.00L1472.32 453.81L1473.22 456.70L1470.75 454.95L1468.28 456.70L1469.18 453.81L1466.75 452.00L1469.78 451.97ZM1475.03 457.85L1476.00 460.72L1479.02 460.75L1476.60 462.56L1477.50 465.45L1475.03 463.70L1472.56 465.45L1473.46 462.56L1471.04 460.75L1474.06 460.72ZM1479.31 468.85L1480.28 471.72L1483.31 471.75L1480.88 473.56L1481.78 476.45L1479.31 474.70L1476.84 476.45L1477.74 473.56L1475.32 471.75L1478.34 471.72ZM1483.60 484.60L1484.57 487.47L1487.59 487.50L1485.17 489.31L1486.06 492.20L1483.60 490.45L1481.13 492.20L1482.03 489.31L1479.60 487.50L1482.63 487.47ZM1487.88 492.85L1488.85 495.72L1491.87 495.75L1489.45 497.56L1490.35 500.45L1487.88 498.70L1485.41 500.45L1486.31 497.56L1483.88 495.75L1486.91 495.72ZM1492.16 503.35L1493.13 506.22L1496.16 506.25L1493.73 508.06L1494.63 510.95L1492.16 509.20L1489.69 510.95L1490.59 508.06L1488.17 506.25L1491.19 506.22ZM1496.45 503.85L1497.41 506.72L1500.44 506.75L1498.01 508.56L1498.91 511.45L1496.45 509.70L1493.98 511.45L1494.88 508.56L1492.45 506.75L1495.48 506.72ZM1500.73 504.10L1501.70 506.97L1504.72 507.00L1502.30 508.81L1503.20 511.70L1500.73 509.95L1498.26 511.70L1499.16 508.81L1496.73 507.00L1499.76 506.97ZM1505.01 504.10L1505.98 506.97L1509.01 507.00L1506.58 508.81L1507.48 511.70L1505.01 509.95L1502.54 511.70L1503.44 508.81L1501.02 507.00L1504.04 506.97ZM1509.29 504.10L1510.26 506.97L1513.29 507.00L1510.86 508.81L1511.76 511.70L1509.29 509.95L1506.83 511.70L1507.72 508.81L1505.30 507.00L1508.32 506.97Z" fill="#00f"/>
<g fill="#fff" stroke="#111" stroke-width="0.7">
<circle cx="922.52" cy="461.08" r="3.2"/><circle cx="926.81" cy="434.39" r="3.2"/><circle cx="931.09" cy="410.46" r="3.2"/><circle cx="935.37" cy="385.76" r="3.2"/><circle cx="939.65" cy="363.08" r="3.2"/><circle cx="943.94" cy="344.21" r="3.2"/><circle cx="948.22" cy="327.03" r="3.2"/><circle cx="952.50" cy="310.58" r="3.2"/><circle cx="956.79" cy="293.78" r="3.2"/><circle cx="961.07" cy="282.07" r="3.2"/><circle cx="965.35" cy="272.08" r="3.2"/><circle cx="969.64" cy="261.82" r="3.2"/><circle cx="973.92" cy="252.47" r="3.2"/><circle cx="978.20" cy="244.60" r="3.2"/><circle cx="982.49" cy="237.36" r="3.2"/><circle cx="986.77" cy="230.35" r="3.2"/><circle cx="991.05" cy="224.13" r="3.2"/><circle cx="995.33" cy="218.87" r="3.2"/><circle cx="999.62" cy="214.69" r="3.2"/><circle cx="1003.90" cy="210.42" r="3.2"/><circle cx="1008.18" cy="205.11" r="3.2"/><circle cx="1012.47" cy="201.45" r="3.2"/><circle cx="1016.75" cy="197.59" r="3.2"/><circle cx="1021.03" cy="194.38" r="3.2"/><circle cx="1025.32" cy="191.99" r="3.2"/><circle cx="1029.60" cy="189.84" r="3.2"/><circle cx="1033.88" cy="187.56" r="3.2"/><circle cx="1038.16" cy="185.08" r="3.2"/><circle cx="1042.45" cy="183.22" r="3.2"/><circle cx="1046.73" cy="180.88" r="3.2"/><circle cx="1051.01" cy="178.71" r="3.2"/><circle cx="1055.30" cy="176.59" r="3.2"/><circle cx="1059.58" cy="174.56" r="3.2"/><circle cx="1063.86" cy="172.57" r="3.2"/><circle cx="1068.14" cy="170.65" r="3.2"/><circle cx="1072.43" cy="168.89" r="3.2"/><circle cx="1076.71" cy="167.25" r="3.2"/><circle cx="1080.99" cy="165.66" r="3.2"/><circle cx="1085.28" cy="164.14" r="3.2"/><circle cx="1089.56" cy="162.66" r="3.2"/><circle cx="1093.84" cy="161.22" r="3.2"/><circle cx="1098.13" cy="159.84" r="3.2"/><circle cx="1102.41" cy="158.51" r="3.2"/><circle cx="1106.69" cy="157.24" r="3.2"/><circle cx="1110.97" cy="156.01" r="3.2"/><circle cx="1115.26" cy="154.85" r="3.2"/><circle cx="1119.54" cy="153.75" r="3.2"/><circle cx="1123.82" cy="152.71" r="3.2"/><circle cx="1128.11" cy="151.67" r="3.2"/><circle cx="1132.39" cy="150.61" r="3.2"/><circle cx="1136.67" cy="149.55" r="3.2"/><circle cx="1140.96" cy="148.50" r="3.2"/><circle cx="1145.24" cy="147.46" r="3.2"/><circle cx="1149.52" cy="146.42" r="3.2"/><circle cx="1153.81" cy="145.38" r="3.2"/><circle cx="1158.09" cy="144.34" r="3.2"/><circle cx="1162.37" cy="143.30" r="3.2"/><circle cx="1166.65" cy="142.28" r="3.2"/><circle cx="1170.94" cy="141.28" r="3.2"/><circle cx="1175.22" cy="140.30" r="3.2"/><circle cx="1179.50" cy="139.33" r="3.2"/><circle cx="1183.79" cy="138.37" r="3.2"/><circle cx="1188.07" cy="137.43" r="3.2"/><circle cx="1192.35" cy="136.48" r="3.2"/><circle cx="1196.63" cy="135.52" r="3.2"/><circle cx="1200.92" cy="134.57" r="3.2"/><circle cx="1205.20" cy="133.66" r="3.2"/><circle cx="1209.48" cy="132.80" r="3.2"/><circle cx="1213.77" cy="131.98" r="3.2"/><circle cx="1218.05" cy="131.18" r="3.2"/><circle cx="1222.33" cy="130.38" r="3.2"/><circle cx="1226.62" cy="129.60" r="3.2"/><circle cx="1230.90" cy="128.84" r="3.2"/><circle cx="1235.18" cy="128.11" r="3.2"/><circle cx="1239.47" cy="127.41" r="3.2"/><circle cx="1243.75" cy="126.74" r="3.2"/><circle cx="1248.03" cy="126.12" r="3.2"/><circle cx="1252.31" cy="125.56" r="3.2"/><circle cx="1256.60" cy="125.03" r="3.2"/><circle cx="1260.88" cy="124.53" r="3.2"/><circle cx="1265.16" cy="124.05" r="3.2"/><circle cx="1269.45" cy="123.56" r="3.2"/><circle cx="1273.73" cy="123.07" r="3.2"/><circle cx="1278.01" cy="122.55" r="3.2"/><circle cx="1282.30" cy="122.00" r="3.2"/><circle cx="1286.58" cy="121.40" r="3.2"/><circle cx="1290.86" cy="120.78" r="3.2"/><circle cx="1295.14" cy="120.14" r="3.2"/><circle cx="1299.43" cy="119.48" r="3.2"/><circle cx="1303.71" cy="118.82" r="3.2"/><circle cx="1307.99" cy="118.15" r="3.2"/><circle cx="1312.28" cy="117.48" r="3.2"/><circle cx="1316.56" cy="116.82" r="3.2"/><circle cx="1320.84" cy="116.17" r="3.2"/><circle cx="1325.12" cy="115.53" r="3.2"/><circle cx="1329.41" cy="114.87" r="3.2"/><circle cx="1333.69" cy="114.22" r="3.2"/><circle cx="1337.97" cy="113.56" r="3.2"/><circle cx="1342.26" cy="112.90" r="3.2"/><circle cx="1346.54" cy="112.24" r="3.2"/><circle cx="1350.82" cy="111.58" r="3.2"/><circle cx="1355.11" cy="110.92" r="3.2"/><circle cx="1359.39" cy="110.26" r="3.2"/><circle cx="1363.67" cy="109.60" r="3.2"/><circle cx="1367.95" cy="108.95" r="3.2"/><circle cx="1372.24" cy="108.31" r="3.2"/><circle cx="1376.52" cy="107.67" r="3.2"/><circle cx="1380.80" cy="107.04" r="3.2"/><circle cx="1385.09" cy="106.41" r="3.2"/><circle cx="1389.37" cy="105.80" r="3.2"/><circle cx="1393.65" cy="105.19" r="3.2"/><circle cx="1397.94" cy="104.60" r="3.2"/><circle cx="1402.22" cy="104.02" r="3.2"/><circle cx="1406.50" cy="103.45" r="3.2"/><circle cx="1410.79" cy="102.90" r="3.2"/><circle cx="1415.07" cy="102.35" r="3.2"/><circle cx="1419.35" cy="101.80" r="3.2"/><circle cx="1423.63" cy="101.27" r="3.2"/><circle cx="1427.92" cy="100.75" r="3.2"/><circle cx="1432.20" cy="100.23" r="3.2"/><circle cx="1436.48" cy="99.71" r="3.2"/><circle cx="1440.77" cy="99.21" r="3.2"/><circle cx="1445.05" cy="98.70" r="3.2"/><circle cx="1449.33" cy="98.21" r="3.2"/><circle cx="1453.62" cy="97.71" r="3.2"/><circle cx="1457.90" cy="97.22" r="3.2"/><circle cx="1462.18" cy="96.73" r="3.2"/><circle cx="1466.46" cy="96.24" r="3.2"/><circle cx="1470.75" cy="95.76" r="3.2"/><circle cx="1475.03" cy="95.27" r="3.2"/><circle cx="1479.31" cy="94.78" r="3.2"/><circle cx="1483.60" cy="94.30" r="3.2"/><circle cx="1487.88" cy="93.81" r="3.2"/><circle cx="1492.16" cy="93.34" r="3.2"/><circle cx="1496.45" cy="92.87" r="3.2"/><circle cx="1500.73" cy="92.40" r="3.2"/><circle cx="1505.01" cy="91.94" r="3.2"/><circle cx="1509.29" cy="91.48" r="3.2"/><circle cx="1513.58" cy="91.02" r="3.2"/><circle cx="1517.86" cy="90.57" r="3.2"/><circle cx="1522.14" cy="90.12" r="3.2"/><circle cx="1526.43" cy="89.67" r="3.2"/><circle cx="1530.71" cy="89.22" r="3.2"/><circle cx="1534.99" cy="88.77" r="3.2"/><circle cx="1539.28" cy="88.32" r="3.2"/><circle cx="1543.56" cy="87.87" r="3.2"/><circle cx="1547.84" cy="87.41" r="3.2"/><circle cx="1552.12" cy="86.96" r="3.2"/><circle cx="1556.41" cy="86.50" r="3.2"/>
</g>
<path d="M919.02 406.05h7.00M922.52 402.55v7.00M919.17 402.70l6.70 6.70M919.17 409.40l6.70 -6.70M923.31 397.42h7.00M926.81 393.92v7.00M923.46 394.07l6.70 6.70M923.46 400.77l6.70 -6.70M927.59 386.91h7.00M931.09 383.41v7.00M927.74 383.56l6.70 6.70M927.74 390.26l6.70 -6.70M931.87 379.32h7.00M935.37 375.82v7.00M932.02 375.97l6.70 6.70M932.02 382.67l6.70 -6.70M936.15 371.39h7.00M939.65 367.89v7.00M936.30 368.04l6.70 6.70M936.30 374.74l6.70 -6.70M940.44 362.09h7.00M943.94 358.59v7.00M940.59 358.74l6.70 6.70M940.59 365.44l6.70 -6.70M944.72 352.55h7.00M948.22 349.05v7.00M944.87 349.20l6.70 6.70M944.87 355.90l6.70 -6.70M949.00 344.39h7.00M952.50 340.89v7.00M949.15 341.04l6.70 6.70M949.15 347.74l6.70 -6.70M953.29 331.58h7.00M956.79 328.08v7.00M953.44 328.23l6.70 6.70M953.44 334.93l6.70 -6.70M957.57 319.33h7.00M961.07 315.83v7.00M957.72 315.98l6.70 6.70M957.72 322.68l6.70 -6.70M961.85 303.76h7.00M965.35 300.26v7.00M962.00 300.41l6.70 6.70M962.00 307.11l6.70 -6.70M966.14 289.96h7.00M969.64 286.46v7.00M966.29 286.61l6.70 6.70M966.29 293.31l6.70 -6.70M970.42 279.01h7.00M973.92 275.51v7.00M970.57 275.66l6.70 6.70M970.57 282.36l6.70 -6.70M974.70 270.40h7.00M978.20 266.90v7.00M974.85 267.05l6.70 6.70M974.85 273.75l6.70 -6.70M978.99 261.54h7.00M982.49 258.04v7.00M979.13 258.19l6.70 6.70M979.13 264.89l6.70 -6.70M983.27 253.10h7.00M986.77 249.60v7.00M983.42 249.75l6.70 6.70M983.42 256.45l6.70 -6.70M987.55 246.30h7.00M991.05 242.80v7.00M987.70 242.95l6.70 6.70M987.70 249.65l6.70 -6.70M991.83 240.65h7.00M995.33 237.15v7.00M991.98 237.30l6.70 6.70M991.98 244.00l6.70 -6.70M996.12 235.16h7.00M999.62 231.66v7.00M996.27 231.81l6.70 6.70M996.27 238.51l6.70 -6.70M1000.40 229.93h7.00M1003.90 226.43v7.00M1000.55 226.58l6.70 6.70M1000.55 233.28l6.70 -6.70M1004.68 225.10h7.00M1008.18 221.60v7.00M1004.83 221.75l6.70 6.70M1004.83 228.45l6.70 -6.70M1008.97 220.70h7.00M1012.47 217.20v7.00M1009.12 217.35l6.70 6.70M1009.12 224.05l6.70 -6.70M1013.25 216.68h7.00M1016.75 213.18v7.00M1013.40 213.33l6.70 6.70M1013.40 220.03l6.70 -6.70M1017.53 213.04h7.00M1021.03 209.54v7.00M1017.68 209.69l6.70 6.70M1017.68 216.39l6.70 -6.70M1021.82 209.79h7.00M1025.32 206.29v7.00M1021.97 206.44l6.70 6.70M1021.97 213.14l6.70 -6.70M1026.10 207.03h7.00M1029.60 203.53v7.00M1026.25 203.68l6.70 6.70M1026.25 210.38l6.70 -6.70M1030.38 204.57h7.00M1033.88 201.07v7.00M1030.53 201.22l6.70 6.70M1030.53 207.92l6.70 -6.70M1034.66 201.75h7.00M1038.16 198.25v7.00M1034.81 198.40l6.70 6.70M1034.81 205.10l6.70 -6.70M1038.95 198.68h7.00M1042.45 195.18v7.00M1039.10 195.33l6.70 6.70M1039.10 202.03l6.70 -6.70M1043.23 195.82h7.00M1046.73 192.32v7.00M1043.38 192.47l6.70 6.70M1043.38 199.17l6.70 -6.70M1047.51 193.20h7.00M1051.01 189.70v7.00M1047.66 189.85l6.70 6.70M1047.66 196.55l6.70 -6.70M1051.80 190.78h7.00M1055.30 187.28v7.00M1051.95 187.43l6.70 6.70M1051.95 194.13l6.70 -6.70M1056.08 188.61h7.00M1059.58 185.11v7.00M1056.23 185.26l6.70 6.70M1056.23 191.96l6.70 -6.70M1060.36 186.52h7.00M1063.86 183.02v7.00M1060.51 183.17l6.70 6.70M1060.51 189.87l6.70 -6.70M1064.64 184.35h7.00M1068.14 180.85v7.00M1064.80 181.00l6.70 6.70M1064.80 187.70l6.70 -6.70M1068.93 182.19h7.00M1072.43 178.69v7.00M1069.08 178.84l6.70 6.70M1069.08 185.54l6.70 -6.70M1073.21 179.99h7.00M1076.71 176.49v7.00M1073.36 176.64l6.70 6.70M1073.36 183.34l6.70 -6.70M1077.49 177.81h7.00M1080.99 174.31v7.00M1077.64 174.46l6.70 6.70M1077.64 181.16l6.70 -6.70M1081.78 176.22h7.00M1085.28 172.72v7.00M1081.93 172.87l6.70 6.70M1081.93 179.57l6.70 -6.70M1086.06 175.34h7.00M1089.56 171.84v7.00M1086.21 171.99l6.70 6.70M1086.21 178.69l6.70 -6.70M1090.34 174.22h7.00M1093.84 170.72v7.00M1090.49 170.87l6.70 6.70M1090.49 177.57l6.70 -6.70M1094.63 172.54h7.00M1098.13 169.04v7.00M1094.78 169.19l6.70 6.70M1094.78 175.89l6.70 -6.70M1098.91 170.74h7.00M1102.41 167.24v7.00M1099.06 167.39l6.70 6.70M1099.06 174.09l6.70 -6.70M1103.19 168.98h7.00M1106.69 165.48v7.00M1103.34 165.63l6.70 6.70M1103.34 172.33l6.70 -6.70M1107.47 167.24h7.00M1110.97 163.74v7.00M1107.62 163.89l6.70 6.70M1107.62 170.59l6.70 -6.70M1111.76 165.62h7.00M1115.26 162.12v7.00M1111.91 162.27l6.70 6.70M1111.91 168.97l6.70 -6.70M1116.04 164.07h7.00M1119.54 160.57v7.00M1116.19 160.72l6.70 6.70M1116.19 167.42l6.70 -6.70M1120.32 162.40h7.00M1123.82 158.90v7.00M1120.47 159.05l6.70 6.70M1120.47 165.75l6.70 -6.70M1124.61 160.63h7.00M1128.11 157.13v7.00M1124.76 157.28l6.70 6.70M1124.76 163.98l6.70 -6.70M1128.89 159.32h7.00M1132.39 155.82v7.00M1129.04 155.97l6.70 6.70M1129.04 162.67l6.70 -6.70M1133.17 158.19h7.00M1136.67 154.69v7.00M1133.32 154.84l6.70 6.70M1133.32 161.54l6.70 -6.70M1137.46 157.13h7.00M1140.96 153.63v7.00M1137.61 153.78l6.70 6.70M1137.61 160.48l6.70 -6.70M1141.74 156.12h7.00M1145.24 152.62v7.00M1141.89 152.77l6.70 6.70M1141.89 159.47l6.70 -6.70M1146.02 155.11h7.00M1149.52 151.61v7.00M1146.17 151.76l6.70 6.70M1146.17 158.46l6.70 -6.70M1150.31 154.11h7.00M1153.81 150.61v7.00M1150.46 150.76l6.70 6.70M1150.46 157.46l6.70 -6.70M1154.59 153.12h7.00M1158.09 149.62v7.00M1154.74 149.77l6.70 6.70M1154.74 156.47l6.70 -6.70M1158.87 152.16h7.00M1162.37 148.66v7.00M1159.02 148.81l6.70 6.70M1159.02 155.51l6.70 -6.70M1163.15 151.22h7.00M1166.65 147.72v7.00M1163.30 147.87l6.70 6.70M1163.30 154.57l6.70 -6.70M1167.44 150.30h7.00M1170.94 146.80v7.00M1167.59 146.95l6.70 6.70M1167.59 153.65l6.70 -6.70M1171.72 149.41h7.00M1175.22 145.91v7.00M1171.87 146.06l6.70 6.70M1171.87 152.76l6.70 -6.70M1176.00 148.55h7.00M1179.50 145.05v7.00M1176.15 145.20l6.70 6.70M1176.15 151.90l6.70 -6.70M1180.29 147.70h7.00M1183.79 144.20v7.00M1180.44 144.35l6.70 6.70M1180.44 151.05l6.70 -6.70M1184.57 146.87h7.00M1188.07 143.37v7.00M1184.72 143.52l6.70 6.70M1184.72 150.22l6.70 -6.70M1188.85 146.06h7.00M1192.35 142.56v7.00M1189.00 142.71l6.70 6.70M1189.00 149.41l6.70 -6.70M1193.13 145.30h7.00M1196.63 141.80v7.00M1193.29 141.95l6.70 6.70M1193.29 148.65l6.70 -6.70M1197.42 144.56h7.00M1200.92 141.06v7.00M1197.57 141.21l6.70 6.70M1197.57 147.91l6.70 -6.70M1201.70 143.78h7.00M1205.20 140.28v7.00M1201.85 140.43l6.70 6.70M1201.85 147.13l6.70 -6.70M1205.98 142.91h7.00M1209.48 139.41v7.00M1206.13 139.56l6.70 6.70M1206.13 146.26l6.70 -6.70M1210.27 141.93h7.00M1213.77 138.43v7.00M1210.42 138.58l6.70 6.70M1210.42 145.28l6.70 -6.70M1214.55 140.88h7.00M1218.05 137.38v7.00M1214.70 137.53l6.70 6.70M1214.70 144.23l6.70 -6.70M1218.83 139.79h7.00M1222.33 136.29v7.00M1218.98 136.44l6.70 6.70M1218.98 143.14l6.70 -6.70M1223.12 138.67h7.00M1226.62 135.17v7.00M1223.27 135.32l6.70 6.70M1223.27 142.02l6.70 -6.70M1227.40 137.57h7.00M1230.90 134.07v7.00M1227.55 134.22l6.70 6.70M1227.55 140.92l6.70 -6.70M1231.68 136.51h7.00M1235.18 133.01v7.00M1231.83 133.16l6.70 6.70M1231.83 139.86l6.70 -6.70M1235.97 135.50h7.00M1239.47 132.00v7.00M1236.12 132.15l6.70 6.70M1236.12 138.85l6.70 -6.70M1240.25 134.59h7.00M1243.75 131.09v7.00M1240.40 131.24l6.70 6.70M1240.40 137.94l6.70 -6.70M1244.53 133.78h7.00M1248.03 130.28v7.00M1244.68 130.43l6.70 6.70M1244.68 137.13l6.70 -6.70M1248.81 133.05h7.00M1252.31 129.55v7.00M1248.96 129.70l6.70 6.70M1248.96 136.40l6.70 -6.70M1253.10 132.38h7.00M1256.60 128.88v7.00M1253.25 129.03l6.70 6.70M1253.25 135.73l6.70 -6.70M1257.38 131.75h7.00M1260.88 128.25v7.00M1257.53 128.40l6.70 6.70M1257.53 135.10l6.70 -6.70M1261.66 131.15h7.00M1265.16 127.65v7.00M1261.81 127.80l6.70 6.70M1261.81 134.50l6.70 -6.70M1265.95 130.57h7.00M1269.45 127.07v7.00M1266.10 127.22l6.70 6.70M1266.10 133.92l6.70 -6.70M1270.23 129.97h7.00M1273.73 126.47v7.00M1270.38 126.62l6.70 6.70M1270.38 133.32l6.70 -6.70M1274.51 129.36h7.00M1278.01 125.86v7.00M1274.66 126.01l6.70 6.70M1274.66 132.71l6.70 -6.70M1278.80 128.71h7.00M1282.30 125.21v7.00M1278.95 125.36l6.70 6.70M1278.95 132.06l6.70 -6.70M1283.08 128.02h7.00M1286.58 124.52v7.00M1283.23 124.67l6.70 6.70M1283.23 131.37l6.70 -6.70M1287.36 127.32h7.00M1290.86 123.82v7.00M1287.51 123.97l6.70 6.70M1287.51 130.67l6.70 -6.70M1291.64 126.61h7.00M1295.14 123.11v7.00M1291.79 123.26l6.70 6.70M1291.79 129.96l6.70 -6.70M1295.93 125.89h7.00M1299.43 122.39v7.00M1296.08 122.54l6.70 6.70M1296.08 129.24l6.70 -6.70M1300.21 125.16h7.00M1303.71 121.66v7.00M1300.36 121.81l6.70 6.70M1300.36 128.51l6.70 -6.70M1304.49 124.43h7.00M1307.99 120.93v7.00M1304.64 121.08l6.70 6.70M1304.64 127.78l6.70 -6.70M1308.78 123.70h7.00M1312.28 120.20v7.00M1308.93 120.35l6.70 6.70M1308.93 127.05l6.70 -6.70M1313.06 122.97h7.00M1316.56 119.47v7.00M1313.21 119.62l6.70 6.70M1313.21 126.32l6.70 -6.70M1317.34 122.24h7.00M1320.84 118.74v7.00M1317.49 118.89l6.70 6.70M1317.49 125.59l6.70 -6.70M1321.62 121.51h7.00M1325.12 118.01v7.00M1321.78 118.16l6.70 6.70M1321.78 124.86l6.70 -6.70M1325.91 120.77h7.00M1329.41 117.27v7.00M1326.06 117.42l6.70 6.70M1326.06 124.12l6.70 -6.70M1330.19 120.02h7.00M1333.69 116.52v7.00M1330.34 116.67l6.70 6.70M1330.34 123.37l6.70 -6.70M1334.47 119.26h7.00M1337.97 115.76v7.00M1334.62 115.91l6.70 6.70M1334.62 122.61l6.70 -6.70M1338.76 118.50h7.00M1342.26 115.00v7.00M1338.91 115.15l6.70 6.70M1338.91 121.85l6.70 -6.70M1343.04 117.74h7.00M1346.54 114.24v7.00M1343.19 114.39l6.70 6.70M1343.19 121.09l6.70 -6.70M1347.32 116.98h7.00M1350.82 113.48v7.00M1347.47 113.63l6.70 6.70M1347.47 120.33l6.70 -6.70M1351.61 116.22h7.00M1355.11 112.72v7.00M1351.76 112.87l6.70 6.70M1351.76 119.57l6.70 -6.70M1355.89 115.46h7.00M1359.39 111.96v7.00M1356.04 112.11l6.70 6.70M1356.04 118.81l6.70 -6.70M1360.17 114.71h7.00M1363.67 111.21v7.00M1360.32 111.36l6.70 6.70M1360.32 118.06l6.70 -6.70M1364.45 113.96h7.00M1367.95 110.46v7.00M1364.61 110.61l6.70 6.70M1364.61 117.31l6.70 -6.70M1368.74 113.22h7.00M1372.24 109.72v7.00M1368.89 109.87l6.70 6.70M1368.89 116.57l6.70 -6.70M1373.02 112.49h7.00M1376.52 108.99v7.00M1373.17 109.14l6.70 6.70M1373.17 115.84l6.70 -6.70M1377.30 111.77h7.00M1380.80 108.27v7.00M1377.45 108.42l6.70 6.70M1377.45 115.12l6.70 -6.70M1381.59 111.06h7.00M1385.09 107.56v7.00M1381.74 107.71l6.70 6.70M1381.74 114.41l6.70 -6.70M1385.87 110.37h7.00M1389.37 106.87v7.00M1386.02 107.02l6.70 6.70M1386.02 113.72l6.70 -6.70M1390.15 109.70h7.00M1393.65 106.20v7.00M1390.30 106.35l6.70 6.70M1390.30 113.05l6.70 -6.70M1394.44 109.04h7.00M1397.94 105.54v7.00M1394.59 105.69l6.70 6.70M1394.59 112.39l6.70 -6.70M1398.72 108.41h7.00M1402.22 104.91v7.00M1398.87 105.06l6.70 6.70M1398.87 111.76l6.70 -6.70M1403.00 107.79h7.00M1406.50 104.29v7.00M1403.15 104.44l6.70 6.70M1403.15 111.14l6.70 -6.70M1407.29 107.18h7.00M1410.79 103.68v7.00M1407.44 103.83l6.70 6.70M1407.44 110.53l6.70 -6.70M1411.57 106.59h7.00M1415.07 103.09v7.00M1411.72 103.24l6.70 6.70M1411.72 109.94l6.70 -6.70M1415.85 106.01h7.00M1419.35 102.51v7.00M1416.00 102.66l6.70 6.70M1416.00 109.36l6.70 -6.70M1420.13 105.44h7.00M1423.63 101.94v7.00M1420.28 102.09l6.70 6.70M1420.28 108.79l6.70 -6.70M1424.42 104.88h7.00M1427.92 101.38v7.00M1424.57 101.53l6.70 6.70M1424.57 108.23l6.70 -6.70M1428.70 104.34h7.00M1432.20 100.84v7.00M1428.85 100.99l6.70 6.70M1428.85 107.69l6.70 -6.70M1432.98 103.80h7.00M1436.48 100.30v7.00M1433.13 100.45l6.70 6.70M1433.13 107.15l6.70 -6.70M1437.27 103.27h7.00M1440.77 99.77v7.00M1437.42 99.92l6.70 6.70M1437.42 106.62l6.70 -6.70M1441.55 102.75h7.00M1445.05 99.25v7.00M1441.70 99.40l6.70 6.70M1441.70 106.10l6.70 -6.70M1445.83 102.24h7.00M1449.33 98.74v7.00M1445.98 98.89l6.70 6.70M1445.98 105.59l6.70 -6.70M1450.12 101.73h7.00M1453.62 98.23v7.00M1450.27 98.38l6.70 6.70M1450.27 105.08l6.70 -6.70M1454.40 101.23h7.00M1457.90 97.73v7.00M1454.55 97.88l6.70 6.70M1454.55 104.58l6.70 -6.70M1458.68 100.74h7.00M1462.18 97.24v7.00M1458.83 97.39l6.70 6.70M1458.83 104.09l6.70 -6.70M1462.96 100.24h7.00M1466.46 96.74v7.00M1463.11 96.89l6.70 6.70M1463.11 103.59l6.70 -6.70M1467.25 99.75h7.00M1470.75 96.25v7.00M1467.40 96.40l6.70 6.70M1467.40 103.10l6.70 -6.70M1471.53 99.27h7.00M1475.03 95.77v7.00M1471.68 95.92l6.70 6.70M1471.68 102.62l6.70 -6.70M1475.81 98.78h7.00M1479.31 95.28v7.00M1475.96 95.43l6.70 6.70M1475.96 102.13l6.70 -6.70M1480.10 98.30h7.00M1483.60 94.80v7.00M1480.25 94.95l6.70 6.70M1480.25 101.65l6.70 -6.70M1484.38 97.82h7.00M1487.88 94.32v7.00M1484.53 94.47l6.70 6.70M1484.53 101.17l6.70 -6.70M1488.66 97.36h7.00M1492.16 93.86v7.00M1488.81 94.01l6.70 6.70M1488.81 100.71l6.70 -6.70M1492.95 96.91h7.00M1496.45 93.41v7.00M1493.10 93.56l6.70 6.70M1493.10 100.26l6.70 -6.70M1497.23 96.46h7.00M1500.73 92.96v7.00M1497.38 93.11l6.70 6.70M1497.38 99.81l6.70 -6.70M1501.51 96.03h7.00M1505.01 92.53v7.00M1501.66 92.68l6.70 6.70M1501.66 99.38l6.70 -6.70M1505.79 95.60h7.00M1509.29 92.10v7.00M1505.94 92.25l6.70 6.70M1505.94 98.95l6.70 -6.70M1510.08 95.17h7.00M1513.58 91.67v7.00M1510.23 91.82l6.70 6.70M1510.23 98.52l6.70 -6.70M1514.36 94.75h7.00M1517.86 91.25v7.00M1514.51 91.40l6.70 6.70M1514.51 98.10l6.70 -6.70M1518.64 94.34h7.00M1522.14 90.84v7.00M1518.79 90.99l6.70 6.70M1518.79 97.69l6.70 -6.70M1522.93 93.92h7.00M1526.43 90.42v7.00M1523.08 90.57l6.70 6.70M1523.08 97.27l6.70 -6.70M1527.21 93.51h7.00M1530.71 90.01v7.00M1527.36 90.16l6.70 6.70M1527.36 96.86l6.70 -6.70M1531.49 93.10h7.00M1534.99 89.60v7.00M1531.64 89.75l6.70 6.70M1531.64 96.45l6.70 -6.70M1535.78 92.68h7.00M1539.28 89.18v7.00M1535.93 89.33l6.70 6.70M1535.93 96.03l6.70 -6.70M1540.06 92.27h7.00M1543.56 88.77v7.00M1540.21 88.92l6.70 6.70M1540.21 95.62l6.70 -6.70M1544.34 91.85h7.00M1547.84 88.35v7.00M1544.49 88.50l6.70 6.70M1544.49 95.20l6.70 -6.70M1548.62 91.43h7.00M1552.12 87.93v7.00M1548.77 88.08l6.70 6.70M1548.77 94.78l6.70 -6.70M1552.91 91.00h7.00M1556.41 87.50v7.00M1553.06 87.65l6.70 6.70M1553.06 94.35l6.70 -6.70" fill="none" stroke="#f0f" stroke-width="0.85"/>
<rect x="916.10" y="38.00" width="642.50" height="472.30" fill="none" stroke="#000" stroke-width="2.40"/>
<path d="M916.10 510.30 v-10.00 M916.10 38.00 v10.00M1076.72 510.30 v-10.00 M1076.72 38.00 v10.00M1237.35 510.30 v-10.00 M1237.35 38.00 v10.00M1397.97 510.30 v-10.00 M1397.97 38.00 v10.00M1558.60 510.30 v-10.00 M1558.60 38.00 v10.00M996.41 510.30 v-5.60 M996.41 38.00 v5.60M1157.04 510.30 v-5.60 M1157.04 38.00 v5.60M1317.66 510.30 v-5.60 M1317.66 38.00 v5.60M1478.29 510.30 v-5.60 M1478.29 38.00 v5.60M916.10 510.30 h10.00 M1558.60 510.30 h-10.00M916.10 392.23 h10.00 M1558.60 392.23 h-10.00M916.10 274.15 h10.00 M1558.60 274.15 h-10.00M916.10 156.07 h10.00 M1558.60 156.07 h-10.00M916.10 38.00 h10.00 M1558.60 38.00 h-10.00M916.10 451.26 h5.60 M1558.60 451.26 h-5.60M916.10 333.19 h5.60 M1558.60 333.19 h-5.60M916.10 215.11 h5.60 M1558.60 215.11 h-5.60M916.10 97.04 h5.60 M1558.60 97.04 h-5.60" stroke="#000" stroke-width="2.40" fill="none"/>
<g font-family="'Liberation Serif',serif" font-size="35" fill="#000">
<text x="916.10" y="547.2" text-anchor="middle">0</text>
<text x="1076.72" y="547.2" text-anchor="middle">45</text>
<text x="1237.35" y="547.2" text-anchor="middle">90</text>
<text x="1397.97" y="547.2" text-anchor="middle">135</text>
<text x="1558.60" y="547.2" text-anchor="middle">180</text>
<text x="905.3" y="520.50" text-anchor="end">0</text>
<text x="905.3" y="402.43" text-anchor="end">5</text>
<text x="905.3" y="284.35" text-anchor="end">10</text>
<text x="905.3" y="166.27" text-anchor="end">15</text>
<text x="905.3" y="48.20" text-anchor="end">20</text>
</g>
<text x="1213.45" y="594" font-family="'Liberation Serif',serif" font-style="italic" font-size="46">y</text>
<text x="1243.4" y="573.2" text-anchor="middle" font-family="'Liberation Serif',serif" font-size="31">+</text>
<g transform="translate(847.8,288) rotate(-90)" font-family="'Liberation Serif',serif" fill="#000">
<text x="0" y="0" font-style="italic" font-size="45.5" transform="translate(-2.9,0) scale(1.13,1)">U</text>
<text x="28" y="16.2" font-style="italic" font-size="28">p</text>
<text x="31.5" y="-23.5" font-size="28">+</text>
</g>
<text x="1194.9" y="657.4" text-anchor="middle" font-family="'Liberation Serif',serif" font-size="42">(<tspan font-weight="bold">b</tspan>)</text>
<path d="M1012 282.4H1067" stroke="#ff7f0e" stroke-width="3" stroke-linecap="round" fill="none"/>
<path d="M1039.50 318.27L1043.10 324.87L1035.90 324.87Z" fill="#000"/>
<path d="M1036.50 359.40h6.00v6.00h-6.00Z" fill="#f00"/>
<path d="M1039.50 397.75L1040.47 400.62L1043.49 400.65L1041.07 402.46L1041.97 405.35L1039.50 403.60L1037.03 405.35L1037.93 402.46L1035.51 400.65L1038.53 400.62Z" fill="#00f"/>
<circle cx="1039.5" cy="434.2" r="3.2" fill="#fff" stroke="#000" stroke-width="0.8"/>
<path d="M1036.00 465.60h7.00M1039.50 462.10v7.00M1036.15 462.25l6.70 6.70M1036.15 468.95l6.70 -6.70" fill="none" stroke="#f0f" stroke-width="0.85"/>
<g font-family="'Liberation Serif',serif" font-size="25.6" fill="#000">
<text y="290.6"><tspan x="1076" font-style="italic" font-size="29.5">ϕ</tspan><tspan x="1094.9" dy="1.2" font-size="28">=</tspan><tspan x="1115.8" dy="-1.2">0 F</tspan></text>
<text y="330.6"><tspan x="1076" font-style="italic" font-size="29.5">ϕ</tspan><tspan x="1094.9" dy="1.2" font-size="28">=</tspan><tspan x="1115.8" dy="-1.2">0.11%</tspan></text>
<text y="370.6"><tspan x="1076" font-style="italic" font-size="29.5">ϕ</tspan><tspan x="1094.9" dy="1.2" font-size="28">=</tspan><tspan x="1115.8" dy="-1.2">0.22%</tspan></text>
<text y="410.6"><tspan x="1076" font-style="italic" font-size="29.5">ϕ</tspan><tspan x="1094.9" dy="1.2" font-size="28">=</tspan><tspan x="1115.8" dy="-1.2">0.44%</tspan></text>
</g>
<g font-family="'Liberation Serif',serif" font-size="25.1" fill="#000">
<text x="1074.3" y="441.8">Fluid velocity in Ref. [32]</text>
<text x="1074.3" y="473.1">Particle velocity in Ref. [32]</text>
</g>
</g>
</svg>
</body></html>
